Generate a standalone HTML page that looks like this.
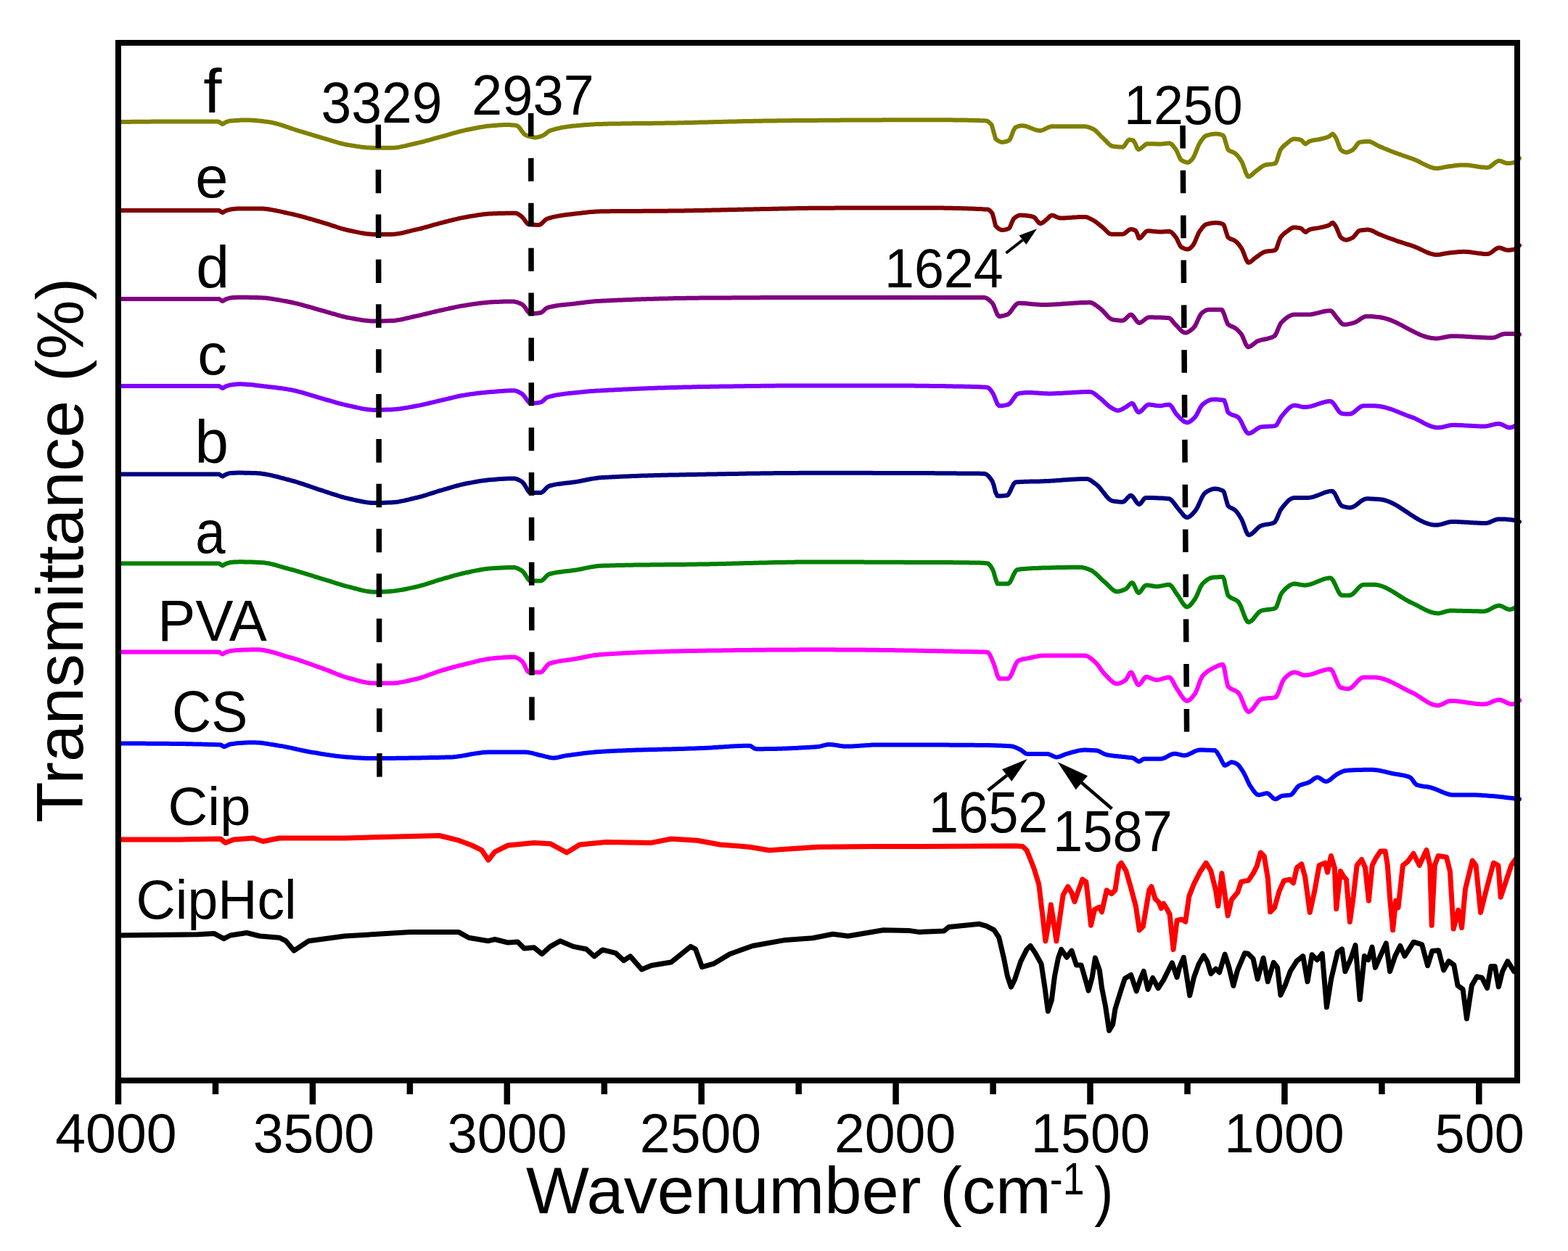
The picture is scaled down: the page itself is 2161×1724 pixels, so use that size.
<!DOCTYPE html>
<html><head><meta charset="utf-8"><title>FTIR spectra</title>
<style>html,body{margin:0;padding:0;background:#fff;} svg{display:block;}</style></head>
<body>
<svg width="2161" height="1724" viewBox="0 0 2161 1724">
<rect width="2161" height="1724" fill="#fff"/>
<g id="curves">
<path d="M164.5,168.0 167.0,168.0 169.5,167.9 172.0,167.9 174.5,167.9 177.0,167.9 179.5,167.9 182.0,167.8 184.5,167.8 187.0,167.8 189.5,167.8 192.0,167.8 194.5,167.7 197.0,167.7 199.5,167.7 202.0,167.7 204.5,167.7 207.0,167.7 209.5,167.6 212.0,167.6 214.5,167.6 217.0,167.6 219.5,167.6 222.0,167.6 224.5,167.6 227.0,167.6 229.5,167.6 232.0,167.6 234.5,167.6 237.0,167.6 239.5,167.5 242.0,167.5 244.5,167.5 247.0,167.5 249.5,167.5 252.0,167.5 254.5,167.5 257.0,167.5 259.5,167.5 262.0,167.5 264.5,167.5 267.0,167.5 269.5,167.5 272.0,167.5 274.5,167.5 277.0,167.5 279.5,167.5 282.0,167.5 284.5,167.5 287.0,167.5 289.5,167.5 292.0,167.5 294.5,167.5 297.0,167.5 299.5,167.5 300.0,167.5 302.0,168.0 304.5,169.9 306.5,171.0 307.0,170.9 309.5,169.4 311.0,168.5 312.0,168.1 314.5,167.2 317.0,166.6 318.0,166.5 319.5,166.4 322.0,166.2 324.5,166.0 327.0,165.9 329.5,165.7 332.0,165.6 334.5,165.6 337.0,165.5 339.5,165.5 340.0,165.5 342.0,165.5 344.5,165.6 347.0,165.7 349.5,165.8 352.0,166.0 354.5,166.3 357.0,166.5 359.5,166.8 362.0,167.1 364.5,167.4 367.0,167.7 369.4,168.0 369.5,168.0 372.0,168.4 374.5,168.8 377.0,169.4 379.5,170.0 382.0,170.6 384.5,171.4 387.0,172.1 389.5,172.9 392.0,173.7 394.5,174.6 397.0,175.4 399.5,176.3 402.0,177.1 404.5,178.0 407.0,178.8 409.5,179.6 411.2,180.1 412.0,180.3 414.5,181.1 417.0,181.8 419.5,182.6 422.0,183.4 424.5,184.1 427.0,184.9 429.5,185.7 432.0,186.4 434.5,187.2 437.0,188.0 439.5,188.7 442.0,189.4 444.5,190.2 446.0,190.6 447.0,190.9 449.5,191.6 452.0,192.4 454.5,193.1 457.0,193.9 459.5,194.7 462.0,195.4 464.5,196.1 467.0,196.8 469.5,197.5 472.0,198.1 474.5,198.7 477.0,199.2 479.5,199.7 480.7,199.9 482.0,200.1 484.5,200.5 487.0,200.9 489.5,201.3 492.0,201.7 494.5,202.0 497.0,202.4 499.5,202.7 502.0,203.0 504.5,203.3 507.0,203.5 509.5,203.6 512.0,203.7 514.5,203.8 515.5,203.8 517.0,203.8 519.5,203.8 522.0,203.8 524.5,203.8 527.0,203.8 529.5,203.8 532.0,203.8 534.5,203.8 537.0,203.8 538.7,203.8 539.5,203.8 542.0,203.7 544.5,203.5 547.0,203.2 549.5,202.9 552.0,202.4 554.5,201.9 557.0,201.4 559.5,200.8 562.0,200.2 564.5,199.6 567.0,199.0 569.5,198.4 572.0,197.8 573.5,197.5 574.5,197.3 577.0,196.7 579.5,196.1 582.0,195.5 584.5,194.9 587.0,194.2 589.5,193.5 592.0,192.8 594.5,192.1 597.0,191.4 599.5,190.7 602.0,190.0 604.5,189.3 607.0,188.6 608.3,188.3 609.5,188.0 612.0,187.3 614.5,186.6 617.0,185.9 619.5,185.2 622.0,184.4 624.5,183.7 627.0,183.0 629.5,182.3 632.0,181.6 634.5,181.0 637.0,180.4 639.5,179.8 642.0,179.2 643.0,179.0 644.5,178.7 647.0,178.2 649.5,177.7 652.0,177.2 654.5,176.7 657.0,176.2 659.5,175.7 662.0,175.3 664.5,174.9 667.0,174.5 669.5,174.1 672.0,173.8 674.5,173.5 677.0,173.3 677.9,173.2 679.5,173.1 682.0,172.9 684.5,172.7 687.0,172.5 689.5,172.3 692.0,172.2 694.5,172.1 697.0,172.0 699.5,172.0 700.0,172.0 702.0,172.0 704.5,172.2 707.0,172.4 709.5,172.6 712.0,173.0 714.5,174.5 717.0,177.5 719.5,181.2 722.0,184.3 724.2,186.0 724.5,186.1 727.0,187.1 729.5,187.9 732.0,188.6 734.5,189.1 737.0,189.4 738.2,189.4 739.5,189.3 742.0,188.9 744.5,188.1 747.0,187.2 747.4,187.1 749.5,186.1 752.0,184.3 754.5,182.3 757.0,180.6 759.0,179.7 759.5,179.5 762.0,178.8 764.5,178.1 767.0,177.5 769.5,176.9 772.0,176.3 774.5,175.8 777.0,175.4 779.5,175.0 782.0,174.6 784.5,174.3 787.0,173.9 789.5,173.6 792.0,173.4 793.8,173.2 794.5,173.1 797.0,172.9 799.5,172.7 802.0,172.4 804.5,172.2 807.0,172.0 809.5,171.9 812.0,171.7 814.5,171.5 817.0,171.4 819.5,171.2 822.0,171.1 824.5,171.0 827.0,170.9 828.6,170.9 829.5,170.9 832.0,170.8 834.5,170.8 837.0,170.7 839.5,170.6 842.0,170.6 844.5,170.5 847.0,170.5 849.5,170.5 852.0,170.4 854.5,170.4 857.0,170.3 859.5,170.3 862.0,170.3 864.5,170.2 867.0,170.2 869.5,170.2 872.0,170.1 874.5,170.1 877.0,170.1 879.5,170.1 882.0,170.0 884.5,170.0 887.0,170.0 889.5,170.0 892.0,169.9 894.5,169.9 897.0,169.9 899.5,169.9 902.0,169.8 904.5,169.8 907.0,169.8 909.5,169.7 912.0,169.7 914.5,169.7 917.0,169.6 919.5,169.6 922.0,169.6 924.5,169.5 925.0,169.5 927.0,169.5 929.5,169.4 932.0,169.4 934.5,169.3 937.0,169.3 939.5,169.2 942.0,169.2 944.5,169.1 947.0,169.1 949.5,169.0 952.0,168.9 954.5,168.9 957.0,168.8 959.5,168.8 962.0,168.7 964.5,168.6 967.0,168.6 969.5,168.5 972.0,168.5 974.5,168.4 977.0,168.3 979.5,168.3 982.0,168.2 984.5,168.1 987.0,168.1 989.5,168.0 992.0,167.9 994.5,167.9 997.0,167.8 999.5,167.8 1002.0,167.7 1004.5,167.6 1007.0,167.6 1009.5,167.5 1012.0,167.4 1014.5,167.4 1017.0,167.3 1019.5,167.3 1022.0,167.2 1024.5,167.1 1027.0,167.1 1029.5,167.0 1032.0,167.0 1034.5,166.9 1037.0,166.9 1039.5,166.8 1042.0,166.8 1044.5,166.7 1047.0,166.7 1049.5,166.7 1052.0,166.6 1054.5,166.6 1057.0,166.5 1059.5,166.5 1060.0,166.5 1062.0,166.5 1064.5,166.4 1067.0,166.4 1069.5,166.4 1072.0,166.3 1074.5,166.3 1077.0,166.3 1079.5,166.3 1082.0,166.2 1084.5,166.2 1087.0,166.2 1089.5,166.2 1092.0,166.1 1094.5,166.1 1097.0,166.1 1099.5,166.1 1102.0,166.0 1104.5,166.0 1107.0,166.0 1109.5,166.0 1112.0,166.0 1114.5,165.9 1117.0,165.9 1119.5,165.9 1120.0,165.9 1122.0,165.9 1124.5,165.9 1127.0,165.9 1129.5,165.8 1132.0,165.8 1134.5,165.8 1137.0,165.8 1139.5,165.8 1142.0,165.8 1144.5,165.7 1147.0,165.7 1149.5,165.7 1152.0,165.7 1154.5,165.7 1157.0,165.7 1159.5,165.6 1162.0,165.6 1164.5,165.6 1167.0,165.6 1169.5,165.6 1172.0,165.6 1174.5,165.6 1177.0,165.5 1179.5,165.5 1182.0,165.5 1184.5,165.5 1187.0,165.5 1189.5,165.5 1192.0,165.5 1194.5,165.4 1197.0,165.4 1199.5,165.4 1202.0,165.4 1204.5,165.4 1207.0,165.4 1209.5,165.4 1212.0,165.4 1214.5,165.4 1217.0,165.3 1219.5,165.3 1222.0,165.3 1224.5,165.3 1227.0,165.3 1229.5,165.3 1232.0,165.3 1234.5,165.3 1237.0,165.3 1239.5,165.3 1242.0,165.3 1244.5,165.2 1247.0,165.2 1249.5,165.2 1252.0,165.2 1254.5,165.2 1257.0,165.2 1259.5,165.2 1262.0,165.2 1264.5,165.2 1267.0,165.2 1269.5,165.2 1272.0,165.2 1274.5,165.2 1277.0,165.2 1279.0,165.2 1279.5,165.2 1282.0,165.2 1284.5,165.2 1287.0,165.2 1289.5,165.2 1292.0,165.2 1294.5,165.2 1297.0,165.2 1299.5,165.2 1302.0,165.3 1304.5,165.3 1307.0,165.3 1309.5,165.3 1312.0,165.3 1314.5,165.4 1317.0,165.4 1319.5,165.4 1322.0,165.4 1324.5,165.5 1327.0,165.5 1329.5,165.6 1332.0,165.6 1334.5,165.7 1337.0,165.7 1339.5,165.8 1342.0,165.8 1344.5,165.9 1347.0,166.0 1349.5,166.1 1352.0,166.2 1354.5,166.2 1357.0,166.3 1358.6,166.4 1359.5,166.5 1362.0,167.6 1364.5,169.7 1366.6,172.0 1367.0,172.7 1369.5,182.1 1372.0,191.0 1372.3,191.4 1374.5,193.2 1377.0,194.8 1379.5,195.7 1381.4,195.9 1382.0,195.9 1384.5,195.6 1387.0,195.0 1389.5,194.0 1390.5,193.6 1392.0,191.9 1394.5,185.9 1397.0,179.3 1399.5,175.5 1402.0,174.5 1404.5,173.7 1407.0,173.3 1408.6,173.2 1409.5,173.2 1412.0,173.5 1414.5,174.2 1417.0,175.0 1419.5,176.0 1422.0,177.0 1424.5,178.0 1427.0,178.8 1429.5,179.5 1432.0,179.9 1433.6,180.0 1434.5,179.9 1437.0,179.3 1439.5,178.2 1442.0,176.9 1444.5,175.6 1447.0,174.7 1449.5,174.3 1452.0,174.3 1454.5,174.3 1457.0,174.3 1459.5,174.3 1462.0,174.3 1464.5,174.3 1467.0,174.3 1469.5,174.3 1472.0,174.3 1474.5,174.3 1477.0,174.3 1479.5,174.3 1482.0,174.3 1484.5,174.3 1487.0,174.3 1489.5,174.3 1492.0,174.3 1494.5,174.3 1495.0,174.3 1497.0,174.4 1499.5,175.0 1502.0,175.8 1504.5,176.9 1506.4,177.7 1507.0,178.0 1509.5,179.7 1512.0,182.0 1514.5,184.6 1517.0,187.3 1519.5,189.8 1520.0,190.2 1522.0,192.1 1524.5,194.7 1527.0,197.3 1529.5,199.6 1532.0,201.1 1533.6,201.6 1534.5,201.7 1537.0,202.1 1539.5,202.3 1542.0,202.5 1544.5,202.6 1547.0,202.7 1547.3,202.7 1549.5,201.2 1552.0,197.3 1554.5,193.6 1556.4,192.5 1557.0,192.5 1559.5,192.9 1562.0,193.6 1564.5,197.7 1567.0,203.8 1568.9,206.0 1569.5,205.9 1572.0,204.8 1574.5,202.7 1577.0,200.4 1579.5,198.7 1581.4,198.2 1582.0,198.2 1584.5,198.2 1587.0,198.2 1589.5,198.3 1592.0,198.3 1594.5,198.4 1597.0,198.4 1599.5,198.4 1600.0,198.4 1602.0,198.3 1604.5,198.0 1607.0,197.7 1609.5,197.4 1611.6,197.3 1612.0,197.3 1614.5,198.6 1617.0,201.2 1619.5,204.6 1620.9,206.5 1622.0,208.4 1624.5,214.4 1627.0,219.6 1627.8,220.4 1629.5,221.5 1632.0,222.7 1634.5,223.6 1637.0,223.9 1637.1,223.9 1639.5,222.9 1642.0,220.5 1644.0,218.1 1644.5,217.4 1647.0,212.3 1649.5,205.8 1652.0,199.7 1653.3,197.3 1654.5,195.5 1657.0,191.9 1659.5,188.9 1662.0,187.0 1662.6,186.8 1664.5,186.3 1667.0,185.6 1669.5,185.1 1672.0,184.8 1674.5,184.6 1676.5,184.5 1677.0,184.5 1679.5,184.8 1682.0,185.3 1684.5,186.2 1685.8,186.8 1687.0,188.6 1689.5,197.1 1692.0,205.3 1692.8,206.5 1694.5,207.7 1697.0,208.9 1699.5,209.8 1702.0,211.2 1704.5,213.4 1707.0,216.4 1709.5,220.0 1711.3,222.8 1712.0,224.1 1714.5,230.7 1717.0,238.0 1719.5,243.0 1720.6,243.6 1722.0,243.3 1724.5,241.6 1727.0,239.3 1729.5,237.0 1729.9,236.7 1732.0,235.1 1734.5,233.1 1737.0,231.2 1739.5,229.4 1742.0,228.0 1743.8,227.4 1744.5,227.2 1747.0,226.8 1749.5,226.5 1752.0,226.3 1754.5,225.9 1757.0,225.3 1757.7,225.1 1759.5,222.2 1762.0,214.0 1764.5,206.8 1764.7,206.5 1767.0,203.5 1769.5,200.9 1772.0,198.8 1773.9,197.3 1774.5,196.8 1777.0,194.7 1779.5,192.8 1782.0,191.7 1783.2,191.5 1784.5,191.5 1787.0,191.7 1789.5,192.0 1792.0,192.5 1792.5,192.6 1794.5,194.0 1797.0,196.9 1799.4,198.4 1799.5,198.4 1802.0,196.6 1804.1,194.9 1804.5,194.8 1807.0,194.0 1809.5,193.4 1812.0,193.0 1814.5,192.6 1817.0,192.2 1819.5,191.7 1820.3,191.5 1822.0,191.1 1824.5,190.5 1827.0,189.8 1829.5,189.0 1831.9,188.0 1832.0,188.0 1834.5,185.7 1836.5,184.5 1837.0,184.6 1839.5,187.5 1841.2,190.3 1842.0,191.8 1844.5,198.6 1847.0,205.0 1848.1,206.5 1849.5,207.6 1852.0,209.2 1854.5,210.0 1855.1,210.0 1857.0,209.8 1859.5,209.0 1862.0,207.8 1864.4,206.5 1864.5,206.4 1867.0,203.9 1869.5,200.2 1872.0,197.1 1873.7,196.1 1874.5,195.9 1877.0,195.5 1879.5,195.2 1882.0,195.0 1884.5,194.9 1885.3,194.9 1887.0,195.0 1889.5,195.7 1892.0,196.8 1894.5,198.2 1897.0,199.6 1899.5,201.0 1901.5,201.9 1902.0,202.1 1904.5,203.1 1907.0,204.2 1909.5,205.2 1912.0,206.2 1914.5,207.2 1917.0,208.2 1919.5,209.2 1922.0,210.2 1924.5,211.1 1924.7,211.2 1927.0,212.0 1929.5,212.9 1932.0,213.8 1934.5,214.7 1937.0,215.5 1939.5,216.3 1942.0,217.2 1944.5,218.1 1947.0,219.0 1947.9,219.3 1949.5,219.9 1952.0,221.0 1954.5,222.2 1957.0,223.5 1959.5,224.8 1962.0,226.1 1964.5,227.3 1967.0,228.5 1969.5,229.6 1972.0,230.5 1974.5,231.2 1977.0,231.7 1979.5,232.0 1980.3,232.0 1982.0,231.9 1984.5,231.6 1987.0,231.1 1989.5,230.6 1992.0,230.1 1994.2,229.7 1994.5,229.7 1997.0,229.3 1999.5,229.0 2002.0,228.7 2004.5,228.3 2007.0,228.0 2009.5,227.8 2012.0,227.6 2014.5,227.5 2017.0,227.4 2017.4,227.4 2019.5,227.4 2022.0,227.6 2024.5,227.8 2027.0,228.1 2029.5,228.5 2032.0,228.9 2034.5,229.3 2037.0,229.7 2039.5,230.1 2042.0,230.4 2044.5,230.6 2047.0,230.8 2049.5,230.9 2049.9,230.9 2052.0,230.5 2054.5,229.1 2057.0,227.1 2059.5,225.0 2062.0,223.1 2064.5,221.9 2066.1,221.6 2067.0,221.7 2069.5,222.3 2072.0,223.4 2074.5,224.4 2077.0,225.1 2077.7,225.1 2079.5,225.0 2082.0,224.8 2084.5,224.4 2087.0,223.9 2089.5,222.6 2092.0,220.2 2094.0,218.0" fill="none" stroke="#808000" stroke-width="6" stroke-linejoin="round" stroke-linecap="round"/>
<path d="M164.5,290.0 167.0,290.0 169.5,290.0 172.0,290.0 174.5,290.0 177.0,290.0 179.5,290.0 182.0,290.0 184.5,290.0 187.0,290.0 189.5,290.0 192.0,290.0 194.5,290.0 197.0,290.0 199.5,290.0 202.0,290.0 204.5,290.0 207.0,290.0 209.5,290.0 212.0,290.0 214.5,290.0 217.0,290.0 219.5,290.0 222.0,290.0 224.5,290.0 227.0,290.0 229.5,290.0 232.0,290.0 234.5,290.0 237.0,290.0 239.5,290.0 242.0,290.0 244.5,290.0 247.0,290.0 249.5,290.0 252.0,290.0 254.5,290.0 257.0,290.0 259.5,290.0 262.0,290.0 264.5,290.0 267.0,290.0 269.5,290.0 272.0,290.0 274.5,290.0 277.0,290.0 279.5,290.0 282.0,290.0 284.5,290.0 287.0,290.0 289.5,290.0 292.0,290.0 294.5,290.0 297.0,290.0 299.5,290.0 302.0,290.0 304.5,291.7 306.5,293.0 307.0,292.9 309.5,291.4 311.0,290.5 312.0,290.1 314.5,289.3 317.0,288.7 318.0,288.5 319.5,288.3 322.0,288.0 324.5,287.8 327.0,287.6 329.5,287.5 330.0,287.5 332.0,287.5 334.5,287.5 337.0,287.5 339.5,287.5 342.0,287.5 344.5,287.5 347.0,287.5 349.5,287.5 352.0,287.5 354.5,287.5 357.0,287.5 357.8,287.5 359.5,287.5 362.0,287.6 364.5,287.8 367.0,288.0 369.5,288.3 372.0,288.7 374.5,289.1 377.0,289.6 379.5,290.0 382.0,290.6 384.5,291.1 387.0,291.6 389.5,292.2 392.0,292.8 394.5,293.3 397.0,293.9 399.5,294.4 399.6,294.4 402.0,294.9 404.5,295.5 407.0,296.1 409.5,296.7 412.0,297.3 414.5,298.0 417.0,298.6 419.5,299.3 422.0,300.0 424.5,300.8 427.0,301.5 429.5,302.2 432.0,303.0 434.5,303.7 437.0,304.5 439.5,305.2 442.0,305.9 444.5,306.7 446.0,307.1 447.0,307.4 449.5,308.1 452.0,308.9 454.5,309.7 457.0,310.6 459.5,311.4 462.0,312.2 464.5,313.0 467.0,313.8 469.5,314.6 472.0,315.3 474.5,316.0 477.0,316.7 479.5,317.2 480.7,317.5 482.0,317.8 484.5,318.3 487.0,318.8 489.5,319.4 492.0,319.9 494.5,320.4 497.0,320.9 499.5,321.3 502.0,321.7 504.5,322.1 507.0,322.4 509.5,322.6 512.0,322.8 514.5,322.9 515.5,322.9 517.0,322.9 519.5,322.9 522.0,322.9 524.5,322.9 527.0,322.9 529.5,322.9 532.0,322.9 534.5,322.9 537.0,322.9 538.7,322.9 539.5,322.9 542.0,322.8 544.5,322.6 547.0,322.3 549.5,321.9 552.0,321.5 554.5,321.0 557.0,320.4 559.5,319.8 562.0,319.2 564.5,318.6 567.0,317.9 569.5,317.3 572.0,316.7 573.5,316.4 574.5,316.2 577.0,315.6 579.5,315.0 582.0,314.3 584.5,313.7 587.0,313.0 589.5,312.3 592.0,311.6 594.5,310.9 597.0,310.1 599.5,309.4 602.0,308.8 604.5,308.1 607.0,307.4 608.3,307.1 609.5,306.8 612.0,306.2 614.5,305.5 617.0,304.9 619.5,304.2 622.0,303.6 624.5,303.0 627.0,302.4 629.5,301.8 632.0,301.2 634.5,300.6 637.0,300.1 639.5,299.6 642.0,299.2 643.0,299.0 644.5,298.7 647.0,298.3 649.5,297.9 652.0,297.5 654.5,297.1 657.0,296.7 659.5,296.3 662.0,295.9 664.5,295.6 667.0,295.3 669.5,295.0 672.0,294.8 674.5,294.6 677.0,294.4 677.9,294.4 679.5,294.3 682.0,294.3 684.5,294.2 687.0,294.1 689.5,294.0 692.0,294.0 694.5,293.9 697.0,293.8 699.5,293.8 702.0,293.8 704.5,293.7 707.0,293.7 709.5,293.7 710.3,293.7 712.0,294.0 714.5,295.2 717.0,297.0 719.5,298.9 719.6,299.0 722.0,301.7 724.5,305.4 727.0,308.4 728.9,309.4 729.5,309.4 732.0,309.6 734.5,309.7 737.0,309.8 739.5,309.9 742.0,309.9 742.8,309.9 744.5,309.5 747.0,307.6 749.5,305.1 752.0,302.7 754.4,301.3 754.5,301.3 757.0,300.5 759.5,299.8 762.0,299.2 764.5,298.6 767.0,298.1 769.5,297.6 772.0,297.2 774.5,296.8 777.0,296.4 779.5,296.1 782.0,295.8 784.5,295.5 787.0,295.2 789.5,294.9 792.0,294.6 793.8,294.4 794.5,294.3 797.0,294.0 799.5,293.7 802.0,293.4 804.5,293.1 807.0,292.9 809.5,292.6 812.0,292.3 814.5,292.1 817.0,291.9 819.5,291.7 822.0,291.5 824.5,291.4 827.0,291.3 828.6,291.3 829.5,291.3 832.0,291.2 834.5,291.2 837.0,291.2 839.5,291.2 842.0,291.1 844.5,291.1 847.0,291.1 849.5,291.1 852.0,291.0 854.5,291.0 857.0,291.0 859.5,291.0 862.0,291.0 864.5,290.9 867.0,290.9 869.5,290.9 872.0,290.9 874.5,290.9 877.0,290.9 879.5,290.9 882.0,290.9 884.5,290.9 887.0,290.8 889.5,290.8 892.0,290.8 894.5,290.8 897.0,290.8 899.5,290.8 902.0,290.8 904.5,290.8 907.0,290.7 909.5,290.7 912.0,290.7 914.5,290.7 917.0,290.7 919.5,290.7 922.0,290.6 924.5,290.6 924.8,290.6 927.0,290.6 929.5,290.5 932.0,290.5 934.5,290.5 937.0,290.5 939.5,290.4 942.0,290.4 944.5,290.3 947.0,290.3 949.5,290.3 952.0,290.2 954.5,290.2 957.0,290.1 959.5,290.1 962.0,290.0 964.5,290.0 967.0,289.9 969.5,289.9 972.0,289.8 974.5,289.8 977.0,289.7 979.5,289.7 982.0,289.6 984.5,289.6 987.0,289.5 989.5,289.5 992.0,289.4 994.5,289.3 997.0,289.3 999.5,289.2 1002.0,289.2 1004.5,289.1 1007.0,289.1 1009.5,289.0 1012.0,288.9 1014.5,288.9 1017.0,288.8 1019.5,288.8 1022.0,288.7 1024.5,288.7 1027.0,288.6 1029.5,288.5 1032.0,288.5 1034.5,288.4 1037.0,288.4 1039.5,288.3 1042.0,288.3 1044.5,288.2 1047.0,288.2 1049.5,288.1 1052.0,288.1 1054.5,288.0 1057.0,288.0 1059.5,287.9 1060.0,287.9 1062.0,287.9 1064.5,287.8 1067.0,287.8 1069.5,287.7 1072.0,287.7 1074.5,287.6 1077.0,287.5 1079.5,287.5 1082.0,287.4 1084.5,287.4 1087.0,287.3 1089.5,287.3 1092.0,287.2 1094.5,287.2 1097.0,287.1 1099.5,287.1 1102.0,287.0 1104.5,287.0 1107.0,286.9 1109.5,286.9 1112.0,286.9 1114.5,286.8 1117.0,286.8 1119.5,286.8 1120.0,286.8 1122.0,286.8 1124.5,286.8 1127.0,286.8 1129.5,286.7 1132.0,286.7 1134.5,286.7 1137.0,286.7 1139.5,286.7 1142.0,286.7 1144.5,286.7 1147.0,286.7 1149.5,286.7 1152.0,286.6 1154.5,286.6 1157.0,286.6 1159.5,286.6 1162.0,286.6 1164.5,286.6 1167.0,286.6 1169.5,286.6 1172.0,286.6 1174.5,286.5 1177.0,286.5 1179.5,286.5 1182.0,286.5 1184.5,286.5 1187.0,286.5 1189.5,286.5 1192.0,286.5 1194.5,286.5 1197.0,286.5 1199.5,286.5 1202.0,286.5 1204.5,286.5 1207.0,286.5 1209.5,286.5 1212.0,286.4 1214.5,286.4 1217.0,286.4 1219.5,286.4 1222.0,286.4 1224.5,286.4 1227.0,286.4 1229.5,286.4 1232.0,286.4 1234.5,286.4 1237.0,286.4 1239.5,286.4 1242.0,286.4 1244.5,286.4 1247.0,286.4 1249.5,286.4 1252.0,286.4 1254.5,286.4 1256.4,286.4 1257.0,286.4 1259.5,286.4 1262.0,286.4 1264.5,286.4 1267.0,286.4 1269.5,286.4 1272.0,286.4 1274.5,286.4 1277.0,286.4 1279.5,286.4 1282.0,286.5 1284.5,286.5 1287.0,286.5 1289.5,286.5 1292.0,286.5 1294.5,286.6 1297.0,286.6 1299.5,286.6 1302.0,286.7 1304.5,286.7 1307.0,286.7 1309.5,286.8 1312.0,286.8 1314.5,286.9 1317.0,286.9 1319.5,287.0 1322.0,287.0 1324.5,287.1 1327.0,287.2 1329.5,287.2 1332.0,287.3 1334.5,287.4 1337.0,287.5 1339.5,287.6 1342.0,287.7 1344.5,287.8 1347.0,287.9 1349.5,288.0 1352.0,288.1 1354.5,288.3 1357.0,288.4 1359.5,288.5 1361.0,288.6 1362.0,288.8 1364.5,290.4 1367.0,293.3 1367.7,294.3 1369.5,300.6 1372.0,310.9 1372.3,311.4 1374.5,313.7 1377.0,315.6 1379.5,316.7 1381.4,317.0 1382.0,317.0 1384.5,316.7 1387.0,316.1 1389.5,315.2 1390.5,314.8 1392.0,312.9 1394.5,306.6 1397.0,301.4 1397.3,301.1 1399.5,299.4 1402.0,297.8 1404.5,296.8 1406.4,296.6 1407.0,296.6 1409.5,296.7 1412.0,296.8 1414.5,297.1 1417.0,297.4 1419.5,297.8 1422.0,298.3 1424.5,298.9 1427.0,300.9 1429.5,304.4 1432.0,307.3 1433.6,308.0 1434.5,307.9 1437.0,306.8 1439.5,304.9 1442.0,302.8 1442.7,302.3 1444.5,300.6 1447.0,297.9 1449.5,296.6 1452.0,297.1 1454.5,298.2 1457.0,299.4 1459.5,300.3 1461.0,300.5 1462.0,300.5 1464.5,300.5 1467.0,300.4 1469.5,300.2 1472.0,300.1 1474.5,299.9 1477.0,299.8 1479.5,299.6 1482.0,299.4 1484.5,299.3 1487.0,299.1 1489.5,299.0 1492.0,298.9 1494.5,298.9 1495.0,298.9 1497.0,299.1 1499.5,299.9 1502.0,301.1 1504.5,302.4 1506.4,303.4 1507.0,303.7 1509.5,305.3 1512.0,307.1 1514.5,309.1 1517.0,311.2 1519.5,313.2 1520.0,313.6 1522.0,315.4 1524.5,318.0 1527.0,320.5 1529.5,322.2 1531.4,322.7 1532.0,322.7 1534.5,322.7 1537.0,322.7 1539.5,322.7 1542.0,322.7 1544.5,322.7 1547.0,322.7 1547.3,322.7 1549.5,322.0 1552.0,320.1 1554.5,317.9 1557.0,316.3 1558.6,315.9 1559.5,315.9 1562.0,316.5 1564.5,317.6 1565.5,318.2 1567.0,321.3 1569.5,328.1 1570.0,328.4 1572.0,327.6 1574.5,324.9 1577.0,321.6 1579.5,319.0 1581.4,318.2 1582.0,318.2 1584.5,318.3 1587.0,318.5 1589.5,318.8 1592.0,319.0 1594.5,319.3 1597.0,319.5 1599.5,319.6 1600.0,319.6 1602.0,319.5 1604.5,319.3 1607.0,319.1 1609.5,318.9 1611.6,318.8 1612.0,318.9 1614.5,320.0 1617.0,322.5 1619.5,325.6 1620.9,327.4 1622.0,329.2 1624.5,334.8 1627.0,339.6 1627.8,340.3 1629.5,341.3 1632.0,342.5 1634.5,343.3 1637.0,343.6 1637.1,343.6 1639.5,342.7 1642.0,340.4 1644.0,338.2 1644.5,337.6 1647.0,332.8 1649.5,326.7 1652.0,321.0 1653.3,318.8 1654.5,317.2 1657.0,313.8 1659.5,311.0 1662.0,309.3 1662.6,309.1 1664.5,308.6 1667.0,308.0 1669.5,307.5 1672.0,307.2 1674.5,307.0 1676.5,306.9 1677.0,307.0 1679.5,307.2 1682.0,307.7 1684.5,308.5 1685.8,309.1 1687.0,310.7 1689.5,318.6 1692.0,326.3 1692.8,327.4 1694.5,328.6 1697.0,329.6 1699.5,330.5 1702.0,331.8 1704.5,333.9 1707.0,336.6 1709.5,340.0 1711.3,342.6 1712.0,343.8 1714.5,349.9 1717.0,356.7 1719.5,361.3 1720.6,361.9 1722.0,361.6 1724.5,360.1 1727.0,357.9 1729.5,355.8 1729.9,355.5 1732.0,354.0 1734.5,352.2 1737.0,350.3 1739.5,348.7 1742.0,347.4 1743.8,346.8 1744.5,346.7 1747.0,346.3 1749.5,346.0 1752.0,345.8 1754.5,345.5 1757.0,344.9 1757.7,344.7 1759.5,342.0 1762.0,334.3 1764.5,327.7 1764.7,327.4 1767.0,324.6 1769.5,322.2 1772.0,320.2 1773.9,318.8 1774.5,318.4 1777.0,316.5 1779.5,314.7 1782.0,313.6 1783.2,313.5 1784.5,313.5 1787.0,313.6 1789.5,314.0 1792.0,314.4 1792.5,314.5 1794.5,315.8 1797.0,318.5 1799.4,319.9 1799.5,319.9 1802.0,318.2 1804.1,316.6 1804.5,316.5 1807.0,315.8 1809.5,315.3 1812.0,314.8 1814.5,314.5 1817.0,314.1 1819.5,313.6 1820.3,313.5 1822.0,313.1 1824.5,312.5 1827.0,311.9 1829.5,311.1 1831.9,310.2 1832.0,310.2 1834.5,308.0 1836.5,306.9 1837.0,307.0 1839.5,309.7 1841.2,312.3 1842.0,313.8 1844.5,320.1 1847.0,326.0 1848.1,327.4 1849.5,328.4 1852.0,329.9 1854.5,330.6 1855.1,330.7 1857.0,330.5 1859.5,329.7 1862.0,328.6 1864.4,327.4 1864.5,327.4 1867.0,324.9 1869.5,321.6 1872.0,318.7 1873.7,317.7 1874.5,317.6 1877.0,317.2 1879.5,316.9 1882.0,316.7 1884.5,316.6 1885.3,316.6 1887.0,316.8 1889.5,317.4 1892.0,318.4 1894.5,319.7 1897.0,321.0 1899.5,322.3 1901.5,323.1 1902.0,323.3 1904.5,324.3 1907.0,325.3 1909.5,326.2 1912.0,327.2 1914.5,328.1 1917.0,329.0 1919.5,329.9 1922.0,330.8 1924.5,331.7 1924.7,331.8 1927.0,332.6 1929.5,333.4 1932.0,334.2 1934.5,335.0 1937.0,335.8 1939.5,336.6 1942.0,337.4 1944.5,338.2 1947.0,339.0 1947.9,339.3 1949.5,339.9 1952.0,340.9 1954.5,342.0 1957.0,343.2 1959.5,344.4 1962.0,345.6 1964.5,346.8 1967.0,347.9 1969.5,348.9 1972.0,349.7 1974.5,350.4 1977.0,350.9 1979.5,351.1 1980.3,351.1 1982.0,351.1 1984.5,350.8 1987.0,350.3 1989.5,349.8 1992.0,349.3 1994.2,349.0 1994.5,348.9 1997.0,348.6 1999.5,348.3 2002.0,348.0 2004.5,347.7 2007.0,347.4 2009.5,347.2 2012.0,347.0 2014.5,346.9 2017.0,346.8 2017.4,346.8 2019.5,346.9 2022.0,347.0 2024.5,347.2 2027.0,347.5 2029.5,347.9 2032.0,348.2 2034.5,348.6 2037.0,349.0 2039.5,349.3 2042.0,349.6 2044.5,349.9 2047.0,350.0 2049.5,350.1 2049.9,350.1 2052.0,349.7 2054.5,348.4 2057.0,346.6 2059.5,344.6 2062.0,342.8 2064.5,341.7 2066.1,341.4 2067.0,341.5 2069.5,342.1 2072.0,343.1 2074.5,344.1 2077.0,344.7 2077.7,344.7 2079.5,344.7 2082.0,344.4 2084.5,344.1 2087.0,343.6 2089.5,342.4 2092.0,340.2 2094.0,338.1" fill="none" stroke="#800000" stroke-width="6" stroke-linejoin="round" stroke-linecap="round"/>
<path d="M164.5,412.0 167.0,412.0 169.5,412.0 172.0,412.0 174.5,412.0 177.0,412.0 179.5,412.0 182.0,412.0 184.5,412.0 187.0,412.0 189.5,412.0 192.0,412.0 194.5,412.0 197.0,412.0 199.5,412.0 202.0,412.0 204.5,412.0 207.0,412.0 209.5,412.0 212.0,412.0 214.5,412.0 217.0,412.0 219.5,412.0 222.0,412.0 224.5,412.0 227.0,412.0 229.5,412.0 232.0,412.0 234.5,412.0 237.0,412.0 239.5,412.0 242.0,412.0 244.5,412.0 247.0,412.0 249.5,412.0 252.0,412.0 254.5,412.0 257.0,412.0 259.5,412.0 262.0,412.0 264.5,412.0 267.0,412.0 269.5,412.0 272.0,412.0 274.5,412.0 277.0,412.0 279.5,412.0 282.0,412.0 284.5,412.0 287.0,412.0 289.5,412.0 292.0,412.0 294.5,412.0 297.0,412.0 299.5,412.0 302.0,412.0 304.5,413.7 306.5,415.0 307.0,414.9 309.5,413.4 311.0,412.5 312.0,412.1 314.5,411.3 317.0,410.6 318.0,410.5 319.5,410.3 322.0,410.1 324.5,409.9 327.0,409.8 329.5,409.7 330.0,409.7 332.0,409.7 334.5,409.7 337.0,409.7 339.5,409.8 342.0,409.8 344.5,409.9 347.0,409.9 349.5,410.0 352.0,410.0 354.5,410.1 357.0,410.2 357.8,410.2 359.5,410.3 362.0,410.4 364.5,410.6 367.0,410.8 369.5,411.1 372.0,411.4 374.5,411.8 377.0,412.2 379.5,412.6 382.0,413.0 384.5,413.4 387.0,413.9 389.5,414.4 392.0,414.8 394.5,415.3 397.0,415.8 399.5,416.3 399.6,416.3 402.0,416.8 404.5,417.3 407.0,417.9 409.5,418.4 412.0,419.1 414.5,419.7 417.0,420.4 419.5,421.1 422.0,421.8 424.5,422.5 427.0,423.2 429.5,423.9 432.0,424.6 434.5,425.4 437.0,426.1 439.5,426.8 442.0,427.5 444.5,428.2 446.0,428.6 447.0,428.9 449.5,429.6 452.0,430.3 454.5,431.0 457.0,431.8 459.5,432.5 462.0,433.2 464.5,434.0 467.0,434.7 469.5,435.4 472.0,436.0 474.5,436.6 477.0,437.2 479.5,437.7 480.7,437.9 482.0,438.1 484.5,438.6 487.0,439.0 489.5,439.5 492.0,440.0 494.5,440.4 497.0,440.8 499.5,441.2 502.0,441.5 504.5,441.8 507.0,442.1 509.5,442.3 512.0,442.4 514.5,442.5 515.5,442.5 517.0,442.5 519.5,442.5 522.0,442.5 524.5,442.4 527.0,442.4 529.5,442.3 532.0,442.3 534.5,442.2 537.0,442.1 538.7,442.1 539.5,442.1 542.0,441.9 544.5,441.7 547.0,441.3 549.5,440.9 552.0,440.5 554.5,440.0 557.0,439.4 559.5,438.8 562.0,438.3 564.5,437.7 567.0,437.1 569.5,436.5 572.0,435.9 573.5,435.6 574.5,435.4 577.0,434.9 579.5,434.3 582.0,433.7 584.5,433.1 587.0,432.5 589.5,431.9 592.0,431.3 594.5,430.7 597.0,430.1 599.5,429.5 602.0,428.9 604.5,428.3 607.0,427.8 608.3,427.5 609.5,427.2 612.0,426.7 614.5,426.1 617.0,425.6 619.5,425.0 622.0,424.5 624.5,424.0 627.0,423.4 629.5,422.9 632.0,422.4 634.5,421.9 637.0,421.5 639.5,421.1 642.0,420.7 643.0,420.5 644.5,420.3 647.0,419.9 649.5,419.5 652.0,419.1 654.5,418.8 657.0,418.4 659.5,418.1 662.0,417.8 664.5,417.5 667.0,417.2 669.5,416.9 672.0,416.7 674.5,416.5 677.0,416.3 677.9,416.3 679.5,416.2 682.0,416.1 684.5,416.0 687.0,415.9 689.5,415.8 692.0,415.7 694.5,415.6 697.0,415.5 699.5,415.5 702.0,415.4 704.5,415.4 705.7,415.4 707.0,415.4 709.5,415.8 712.0,416.4 714.5,417.2 717.0,418.2 719.5,419.4 719.6,419.4 722.0,421.5 724.5,425.0 727.0,428.8 729.5,431.5 731.2,432.1 732.0,432.1 734.5,432.0 737.0,431.9 739.5,431.7 742.0,431.4 744.5,431.1 745.1,431.0 747.0,430.1 749.5,427.9 752.0,425.5 754.4,424.0 754.5,424.0 757.0,423.3 759.5,422.7 762.0,422.2 764.5,421.7 767.0,421.3 769.5,420.9 772.0,420.5 774.5,420.2 777.0,419.9 779.5,419.7 782.0,419.4 784.5,419.2 787.0,418.9 789.5,418.7 792.0,418.4 793.8,418.2 794.5,418.1 797.0,417.8 799.5,417.5 802.0,417.2 804.5,416.9 807.0,416.6 809.5,416.3 812.0,416.1 814.5,415.8 817.0,415.6 819.5,415.3 822.0,415.1 824.5,414.9 827.0,414.8 828.6,414.7 829.5,414.7 832.0,414.5 834.5,414.4 837.0,414.3 839.5,414.2 842.0,414.0 844.5,413.9 847.0,413.8 849.5,413.7 852.0,413.6 854.5,413.5 857.0,413.4 859.5,413.3 862.0,413.2 864.5,413.1 867.0,413.0 869.5,412.9 872.0,412.8 874.5,412.7 877.0,412.6 879.5,412.5 882.0,412.4 884.5,412.3 887.0,412.3 889.5,412.2 892.0,412.1 894.5,412.0 897.0,411.9 899.5,411.9 902.0,411.8 904.5,411.7 907.0,411.7 909.5,411.6 912.0,411.5 914.5,411.5 917.0,411.4 919.5,411.4 922.0,411.3 924.5,411.2 927.0,411.2 929.5,411.1 932.0,411.1 934.5,411.0 937.0,411.0 939.5,411.0 942.0,410.9 944.5,410.9 947.0,410.8 949.5,410.8 952.0,410.8 954.5,410.7 957.0,410.7 959.5,410.7 962.0,410.7 964.5,410.6 967.0,410.6 969.5,410.6 970.0,410.6 972.0,410.6 974.5,410.6 977.0,410.6 979.5,410.5 982.0,410.5 984.5,410.5 987.0,410.5 989.5,410.5 992.0,410.5 994.5,410.4 997.0,410.4 999.5,410.4 1002.0,410.4 1004.5,410.4 1007.0,410.4 1009.5,410.3 1012.0,410.3 1014.5,410.3 1017.0,410.3 1019.5,410.3 1022.0,410.3 1024.5,410.3 1027.0,410.3 1029.5,410.2 1032.0,410.2 1034.5,410.2 1037.0,410.2 1039.5,410.2 1042.0,410.2 1044.5,410.2 1047.0,410.2 1049.5,410.1 1052.0,410.1 1054.5,410.1 1057.0,410.1 1059.5,410.1 1062.0,410.1 1064.5,410.1 1067.0,410.1 1069.5,410.1 1072.0,410.1 1074.5,410.1 1077.0,410.1 1079.5,410.1 1082.0,410.0 1084.5,410.0 1087.0,410.0 1089.5,410.0 1092.0,410.0 1094.5,410.0 1097.0,410.0 1099.5,410.0 1102.0,410.0 1104.5,410.0 1107.0,410.0 1109.5,410.0 1112.0,410.0 1114.5,410.0 1117.0,410.0 1119.5,410.0 1120.0,410.0 1122.0,410.0 1124.5,410.0 1127.0,410.0 1129.5,410.0 1132.0,410.0 1134.5,410.0 1137.0,410.0 1139.5,410.0 1142.0,410.0 1144.5,410.0 1147.0,410.0 1149.5,410.0 1152.0,410.0 1154.5,410.0 1157.0,410.0 1159.5,410.0 1162.0,410.0 1164.5,410.0 1167.0,410.0 1169.5,410.0 1172.0,410.0 1174.5,410.0 1177.0,410.0 1179.5,410.0 1182.0,410.0 1184.5,410.0 1187.0,410.0 1189.5,410.0 1192.0,410.0 1194.5,410.0 1197.0,410.0 1199.5,410.0 1202.0,410.0 1204.5,410.0 1207.0,410.0 1209.5,410.0 1212.0,410.0 1214.5,410.0 1217.0,410.0 1219.5,410.0 1222.0,410.0 1224.5,410.0 1227.0,410.0 1229.5,410.0 1232.0,410.0 1234.5,410.0 1237.0,410.0 1239.5,410.0 1242.0,410.0 1244.5,410.0 1247.0,410.0 1249.5,410.0 1252.0,410.0 1254.5,410.0 1257.0,410.0 1259.5,410.0 1262.0,410.0 1264.5,410.0 1267.0,410.0 1269.5,410.0 1272.0,410.0 1274.5,410.0 1277.0,410.0 1279.5,410.0 1282.0,410.0 1284.5,410.0 1287.0,410.0 1289.5,410.0 1292.0,410.0 1294.5,410.0 1297.0,410.0 1299.5,410.0 1302.0,410.0 1304.5,410.0 1307.0,410.0 1309.5,410.0 1312.0,410.0 1314.5,410.0 1317.0,410.0 1319.5,410.0 1322.0,410.0 1324.5,410.0 1327.0,410.0 1329.5,410.0 1332.0,410.0 1334.5,410.0 1337.0,410.0 1339.5,410.0 1342.0,410.0 1344.5,410.0 1347.0,410.0 1349.5,410.0 1352.0,410.0 1354.5,410.0 1356.4,410.0 1357.0,410.0 1359.5,410.8 1362.0,412.4 1364.5,414.5 1367.0,417.0 1367.7,417.7 1369.5,420.8 1372.0,427.3 1374.5,433.4 1376.8,435.9 1377.0,435.9 1379.5,435.7 1382.0,435.3 1384.5,434.7 1387.0,433.9 1388.0,433.6 1389.5,432.8 1392.0,430.4 1394.5,427.1 1397.0,423.6 1399.5,420.5 1402.0,418.3 1404.0,417.7 1404.5,417.7 1407.0,417.8 1409.5,417.9 1412.0,418.0 1414.5,418.2 1417.0,418.5 1419.5,418.7 1422.0,419.0 1424.5,419.2 1427.0,419.4 1429.5,419.6 1432.0,419.8 1434.5,419.9 1437.0,420.0 1438.0,420.0 1439.5,420.0 1442.0,420.0 1444.5,419.9 1447.0,419.8 1449.5,419.7 1452.0,419.6 1454.5,419.5 1457.0,419.3 1459.5,419.2 1462.0,419.0 1464.5,418.8 1467.0,418.6 1469.5,418.4 1472.0,418.2 1474.5,418.1 1477.0,417.9 1479.5,417.7 1482.0,417.5 1484.5,417.4 1487.0,417.2 1489.5,417.1 1492.0,417.0 1494.5,416.9 1497.0,416.9 1499.5,416.8 1501.8,416.8 1502.0,416.8 1504.5,417.3 1507.0,418.5 1509.5,420.1 1512.0,421.9 1514.5,423.8 1515.5,424.5 1517.0,425.7 1519.5,428.0 1522.0,430.8 1524.5,433.6 1527.0,436.3 1529.5,438.5 1532.0,440.0 1533.6,440.5 1534.5,440.6 1537.0,441.0 1539.5,441.3 1542.0,441.6 1544.5,441.7 1547.0,441.8 1547.3,441.8 1549.5,441.0 1552.0,438.7 1554.5,436.1 1557.0,434.0 1558.6,433.6 1559.5,433.8 1562.0,436.0 1564.5,439.6 1567.0,443.0 1569.5,444.9 1570.0,445.0 1572.0,444.5 1574.5,443.0 1577.0,441.0 1579.5,439.0 1582.0,437.6 1583.6,437.3 1584.5,437.3 1587.0,437.3 1589.5,437.3 1592.0,437.4 1594.5,437.4 1597.0,437.5 1599.5,437.6 1602.0,437.7 1604.5,437.8 1607.0,437.9 1609.5,438.1 1611.0,438.2 1612.0,438.5 1614.5,440.6 1617.0,443.8 1619.5,446.8 1620.0,447.3 1622.0,449.3 1624.5,452.0 1627.0,454.7 1629.5,456.9 1632.0,458.3 1633.6,458.6 1634.5,458.5 1637.0,457.8 1639.5,456.3 1642.0,454.4 1644.5,452.2 1645.0,451.8 1647.0,449.1 1649.5,444.1 1652.0,438.5 1654.5,433.7 1656.4,431.4 1657.0,430.9 1659.5,429.1 1662.0,427.7 1664.5,426.9 1665.5,426.8 1667.0,426.8 1669.5,426.8 1672.0,426.8 1674.5,426.8 1677.0,426.8 1679.5,426.8 1682.0,426.8 1683.6,426.8 1684.5,427.3 1687.0,432.6 1689.5,440.4 1692.0,446.5 1692.7,447.3 1694.5,448.5 1697.0,449.6 1699.5,450.6 1701.8,451.8 1702.0,451.9 1704.5,453.8 1707.0,456.2 1709.5,459.0 1711.0,460.9 1712.0,462.5 1714.5,468.4 1717.0,474.6 1719.5,478.1 1720.0,478.2 1722.0,477.8 1724.5,476.5 1727.0,474.6 1729.5,472.6 1732.0,470.8 1733.6,470.0 1734.5,469.6 1737.0,468.8 1739.5,468.2 1742.0,467.7 1744.5,467.2 1747.0,466.7 1749.5,466.0 1752.0,465.2 1754.5,464.2 1756.4,463.2 1757.0,462.7 1759.5,458.2 1762.0,451.9 1764.5,446.4 1765.5,445.0 1767.0,443.5 1769.5,441.1 1772.0,438.9 1774.5,437.0 1777.0,435.5 1779.5,434.4 1782.0,433.7 1783.6,433.6 1784.5,433.6 1787.0,433.6 1789.5,433.6 1792.0,433.6 1794.5,433.6 1797.0,433.6 1799.5,433.6 1801.8,433.6 1802.0,433.6 1804.5,433.5 1807.0,433.2 1809.5,432.8 1812.0,432.3 1814.5,431.7 1817.0,431.1 1819.5,430.4 1822.0,429.8 1824.5,429.3 1827.0,428.8 1829.5,428.4 1832.0,428.2 1833.6,428.2 1834.5,428.4 1837.0,430.5 1839.5,434.0 1842.0,437.4 1842.7,438.2 1844.5,440.3 1847.0,443.6 1849.5,446.3 1851.8,447.3 1852.0,447.3 1854.5,447.2 1857.0,446.9 1859.5,446.4 1862.0,445.9 1864.5,445.2 1865.5,445.0 1867.0,444.5 1869.5,443.3 1872.0,441.7 1874.5,439.9 1877.0,438.3 1879.5,436.9 1882.0,436.1 1883.6,435.9 1884.5,435.9 1887.0,436.0 1889.5,436.1 1892.0,436.3 1894.5,436.5 1897.0,436.8 1899.5,437.0 1901.8,437.3 1902.0,437.3 1904.5,437.7 1907.0,438.2 1909.5,438.8 1912.0,439.6 1914.5,440.4 1917.0,441.3 1919.5,442.4 1922.0,443.5 1924.5,444.6 1927.0,445.9 1929.5,447.1 1932.0,448.4 1934.5,449.8 1937.0,451.1 1939.5,452.5 1942.0,453.8 1944.5,455.1 1947.0,456.4 1949.5,457.7 1952.0,458.9 1954.5,460.1 1957.0,461.2 1959.5,462.2 1962.0,463.1 1964.5,464.0 1967.0,464.7 1969.5,465.3 1972.0,465.8 1974.5,466.1 1977.0,466.3 1979.0,466.4 1979.5,466.4 1982.0,466.2 1984.5,465.9 1987.0,465.5 1989.5,465.0 1992.0,464.5 1994.5,464.0 1997.0,463.6 1999.5,463.3 2001.8,463.2 2002.0,463.2 2004.5,463.2 2007.0,463.3 2009.5,463.3 2012.0,463.4 2014.5,463.5 2017.0,463.6 2019.5,463.8 2022.0,463.9 2024.5,464.1 2027.0,464.2 2029.5,464.4 2032.0,464.5 2034.5,464.7 2037.0,464.8 2039.5,465.0 2042.0,465.1 2044.5,465.2 2047.0,465.3 2049.5,465.4 2052.0,465.5 2054.5,465.5 2056.4,465.5 2057.0,465.5 2059.5,465.1 2062.0,464.2 2064.5,463.2 2067.0,462.1 2069.5,461.0 2072.0,460.3 2074.5,460.0 2077.0,460.0 2079.5,460.0 2082.0,460.1 2084.5,460.1 2087.0,460.2 2089.5,460.4 2092.0,460.7 2094.0,460.9" fill="none" stroke="#800080" stroke-width="6" stroke-linejoin="round" stroke-linecap="round"/>
<path d="M164.5,532.0 167.0,532.0 169.5,532.0 172.0,532.0 174.5,532.0 177.0,532.0 179.5,532.0 182.0,532.0 184.5,532.0 187.0,532.0 189.5,532.0 192.0,532.0 194.5,532.0 197.0,532.0 199.5,532.0 202.0,532.0 204.5,532.0 207.0,532.0 209.5,532.0 212.0,532.0 214.5,532.0 217.0,532.0 219.5,532.0 222.0,532.0 224.5,532.0 227.0,532.0 229.5,532.0 232.0,532.0 234.5,532.0 237.0,532.0 239.5,532.0 242.0,532.0 244.5,532.0 247.0,532.0 249.5,532.0 252.0,532.0 254.5,532.0 257.0,532.0 259.5,532.0 262.0,532.0 264.5,532.0 267.0,532.0 269.5,532.0 272.0,532.0 274.5,532.0 277.0,532.0 279.5,532.0 282.0,532.0 284.5,532.0 287.0,532.0 289.5,532.0 292.0,532.0 294.5,532.0 297.0,532.0 299.5,532.0 302.0,532.0 304.5,533.7 306.5,535.0 307.0,534.9 309.5,533.4 311.0,532.5 312.0,532.1 314.5,531.3 317.0,530.7 318.0,530.5 319.5,530.3 322.0,529.9 324.5,529.6 327.0,529.4 329.5,529.3 330.0,529.3 332.0,529.3 334.5,529.4 337.0,529.5 339.5,529.7 342.0,529.9 344.5,530.1 347.0,530.3 349.5,530.6 352.0,530.9 354.5,531.2 357.0,531.5 359.5,531.8 362.0,532.1 364.5,532.4 364.8,532.4 367.0,532.6 369.5,532.9 372.0,533.2 374.5,533.5 377.0,533.8 379.5,534.1 382.0,534.4 384.5,534.7 387.0,535.0 389.5,535.4 392.0,535.8 394.5,536.1 397.0,536.6 399.5,537.0 399.6,537.0 402.0,537.4 404.5,538.0 407.0,538.5 409.5,539.1 412.0,539.8 414.5,540.4 417.0,541.1 419.5,541.9 422.0,542.6 424.5,543.4 427.0,544.1 429.5,544.9 432.0,545.7 434.5,546.4 437.0,547.2 439.5,547.9 442.0,548.7 444.5,549.4 446.0,549.8 447.0,550.1 449.5,550.8 452.0,551.5 454.5,552.2 457.0,552.9 459.5,553.6 462.0,554.4 464.5,555.1 467.0,555.8 469.5,556.4 472.0,557.1 474.5,557.7 477.0,558.3 479.5,558.8 480.7,559.1 482.0,559.4 484.5,559.9 487.0,560.5 489.5,561.0 492.0,561.6 494.5,562.1 497.0,562.7 499.5,563.2 502.0,563.6 504.5,564.0 507.0,564.4 509.5,564.6 512.0,564.8 514.5,564.9 515.5,564.9 517.0,564.9 519.5,564.9 522.0,564.9 524.5,564.8 527.0,564.8 529.5,564.7 532.0,564.6 534.5,564.5 537.0,564.5 538.7,564.4 539.5,564.4 542.0,564.2 544.5,564.0 547.0,563.8 549.5,563.5 552.0,563.2 554.5,562.8 557.0,562.4 559.5,562.0 562.0,561.6 564.5,561.1 567.0,560.7 569.5,560.2 572.0,559.8 573.5,559.5 574.5,559.3 577.0,558.9 579.5,558.4 582.0,557.8 584.5,557.3 587.0,556.7 589.5,556.1 592.0,555.5 594.5,554.9 597.0,554.3 599.5,553.7 602.0,553.1 604.5,552.5 607.0,551.9 608.3,551.6 609.5,551.3 612.0,550.8 614.5,550.2 617.0,549.6 619.5,549.0 622.0,548.4 624.5,547.8 627.0,547.2 629.5,546.6 632.0,546.0 634.5,545.5 637.0,545.0 639.5,544.6 642.0,544.2 643.0,544.0 644.5,543.8 647.0,543.4 649.5,543.1 652.0,542.7 654.5,542.4 657.0,542.1 659.5,541.8 662.0,541.5 664.5,541.2 667.0,541.0 669.5,540.7 672.0,540.5 674.5,540.3 677.0,540.1 677.9,540.0 679.5,539.9 682.0,539.7 684.5,539.5 687.0,539.3 689.5,539.1 692.0,538.9 694.5,538.7 697.0,538.5 699.5,538.4 702.0,538.3 704.5,538.2 707.0,538.2 708.0,538.2 709.5,538.3 712.0,538.9 714.5,540.0 717.0,541.3 719.5,542.7 719.6,542.8 722.0,545.1 724.5,548.7 727.0,552.3 729.5,555.0 731.2,555.6 732.0,555.6 734.5,555.5 737.0,555.4 739.5,555.2 742.0,554.9 744.5,554.5 745.1,554.4 747.0,553.6 749.5,551.4 752.0,549.0 754.4,547.5 754.5,547.5 757.0,546.7 759.5,546.1 762.0,545.5 764.5,544.9 767.0,544.4 769.5,544.0 772.0,543.6 774.5,543.2 777.0,542.9 779.5,542.5 782.0,542.3 784.5,542.0 787.0,541.7 789.5,541.5 792.0,541.2 793.8,541.0 794.5,540.9 797.0,540.7 799.5,540.4 802.0,540.2 804.5,539.9 807.0,539.7 809.5,539.5 812.0,539.3 814.5,539.1 817.0,538.9 819.5,538.8 822.0,538.6 824.5,538.4 827.0,538.3 828.6,538.2 829.5,538.2 832.0,538.0 834.5,537.9 837.0,537.7 839.5,537.6 842.0,537.5 844.5,537.4 847.0,537.2 849.5,537.1 852.0,537.0 854.5,536.9 857.0,536.7 859.5,536.6 862.0,536.5 864.5,536.4 867.0,536.3 869.5,536.2 872.0,536.0 874.5,535.9 877.0,535.8 879.5,535.7 882.0,535.6 884.5,535.5 887.0,535.4 889.5,535.3 892.0,535.2 894.5,535.1 897.0,535.0 899.5,534.9 902.0,534.8 904.5,534.7 907.0,534.6 909.5,534.6 912.0,534.5 914.5,534.4 917.0,534.3 919.5,534.2 922.0,534.2 924.5,534.1 927.0,534.0 929.5,533.9 932.0,533.9 934.5,533.8 937.0,533.7 939.5,533.7 942.0,533.6 944.5,533.5 947.0,533.5 949.5,533.4 952.0,533.4 954.5,533.3 957.0,533.2 959.5,533.2 962.0,533.1 964.5,533.1 967.0,533.1 969.5,533.0 970.0,533.0 972.0,533.0 974.5,532.9 977.0,532.9 979.5,532.8 982.0,532.8 984.5,532.8 987.0,532.7 989.5,532.7 992.0,532.6 994.5,532.6 997.0,532.6 999.5,532.5 1002.0,532.5 1004.5,532.4 1007.0,532.4 1009.5,532.4 1012.0,532.3 1014.5,532.3 1017.0,532.3 1019.5,532.2 1022.0,532.2 1024.5,532.2 1027.0,532.1 1029.5,532.1 1032.0,532.1 1034.5,532.0 1037.0,532.0 1039.5,532.0 1042.0,531.9 1044.5,531.9 1047.0,531.9 1049.5,531.8 1052.0,531.8 1054.5,531.8 1057.0,531.8 1059.5,531.7 1062.0,531.7 1064.5,531.7 1067.0,531.7 1069.5,531.6 1072.0,531.6 1074.5,531.6 1077.0,531.6 1079.5,531.6 1082.0,531.5 1084.5,531.5 1087.0,531.5 1089.5,531.5 1092.0,531.5 1094.5,531.5 1097.0,531.5 1099.5,531.4 1102.0,531.4 1104.5,531.4 1107.0,531.4 1109.5,531.4 1112.0,531.4 1114.5,531.4 1117.0,531.4 1119.5,531.4 1120.0,531.4 1122.0,531.4 1124.5,531.4 1127.0,531.4 1129.5,531.4 1132.0,531.4 1134.5,531.4 1137.0,531.4 1139.5,531.4 1142.0,531.4 1144.5,531.4 1147.0,531.4 1149.5,531.4 1152.0,531.4 1154.5,531.4 1157.0,531.4 1159.5,531.4 1162.0,531.4 1164.5,531.4 1167.0,531.4 1169.5,531.4 1172.0,531.4 1174.5,531.4 1177.0,531.4 1179.5,531.4 1182.0,531.4 1184.5,531.4 1187.0,531.4 1189.5,531.4 1192.0,531.4 1194.5,531.4 1197.0,531.5 1199.5,531.5 1202.0,531.5 1204.5,531.5 1207.0,531.5 1209.5,531.5 1212.0,531.5 1214.5,531.5 1217.0,531.5 1219.5,531.5 1222.0,531.5 1224.5,531.5 1227.0,531.5 1229.5,531.5 1230.0,531.5 1232.0,531.5 1234.5,531.5 1237.0,531.5 1239.5,531.5 1242.0,531.5 1244.5,531.5 1247.0,531.6 1249.5,531.6 1252.0,531.6 1254.5,531.6 1257.0,531.6 1259.5,531.6 1262.0,531.7 1264.5,531.7 1267.0,531.7 1269.5,531.7 1272.0,531.7 1274.5,531.8 1277.0,531.8 1279.5,531.8 1282.0,531.9 1284.5,531.9 1287.0,531.9 1289.5,532.0 1292.0,532.0 1294.5,532.0 1297.0,532.1 1299.5,532.1 1302.0,532.1 1304.5,532.2 1307.0,532.2 1309.5,532.3 1312.0,532.3 1314.5,532.4 1317.0,532.4 1319.5,532.5 1322.0,532.5 1324.5,532.6 1327.0,532.6 1329.5,532.7 1332.0,532.7 1334.5,532.8 1337.0,532.8 1339.5,532.9 1340.0,532.9 1342.0,532.9 1344.5,533.0 1347.0,533.1 1349.5,533.2 1352.0,533.3 1354.5,533.4 1357.0,533.6 1359.5,533.8 1361.1,534.0 1362.0,534.3 1364.5,536.5 1367.0,540.0 1368.2,541.7 1369.5,544.1 1372.0,550.4 1374.5,556.6 1377.0,559.3 1379.5,559.2 1382.0,559.0 1384.5,558.6 1387.0,558.1 1389.3,557.6 1389.5,557.5 1392.0,555.8 1394.5,552.6 1397.0,548.9 1399.5,545.4 1402.0,543.0 1403.4,542.4 1404.5,542.2 1407.0,541.8 1409.5,541.5 1412.0,541.2 1414.5,541.1 1417.0,541.0 1417.5,541.0 1419.5,541.0 1422.0,541.1 1424.5,541.2 1427.0,541.4 1429.5,541.5 1432.0,541.7 1434.5,541.9 1437.0,542.1 1439.5,542.2 1442.0,542.3 1444.5,542.4 1445.7,542.4 1447.0,542.4 1449.5,542.4 1452.0,542.3 1454.5,542.2 1457.0,542.1 1459.5,542.0 1462.0,541.9 1464.5,541.8 1467.0,541.6 1469.5,541.5 1472.0,541.3 1474.5,541.2 1477.0,541.0 1479.5,540.8 1482.0,540.7 1484.5,540.6 1487.0,540.4 1489.5,540.3 1492.0,540.2 1494.5,540.1 1497.0,540.1 1499.5,540.0 1502.0,540.0 1502.1,540.0 1504.5,540.4 1507.0,541.6 1509.5,543.4 1512.0,545.4 1514.5,547.5 1516.2,548.8 1517.0,549.4 1519.5,551.6 1522.0,554.0 1524.5,556.4 1527.0,558.7 1529.5,560.6 1530.3,561.1 1532.0,562.1 1534.5,563.6 1537.0,564.8 1539.5,565.6 1540.9,565.7 1542.0,565.6 1544.5,564.9 1547.0,563.6 1549.5,562.2 1551.5,561.1 1552.0,560.8 1554.5,559.0 1557.0,557.1 1559.5,555.9 1560.3,555.8 1562.0,557.0 1564.5,561.6 1567.0,566.4 1569.1,568.2 1569.5,568.2 1572.0,567.0 1574.5,564.7 1577.0,561.9 1579.5,559.4 1582.0,557.8 1583.2,557.6 1584.5,557.6 1587.0,557.9 1589.5,558.3 1592.0,558.8 1594.5,559.1 1597.0,559.3 1597.3,559.3 1599.5,559.2 1602.0,558.9 1604.5,558.4 1607.0,558.0 1609.5,557.7 1611.4,557.6 1612.0,557.7 1614.5,559.9 1617.0,563.9 1619.5,568.3 1622.0,571.7 1624.5,574.2 1627.0,576.8 1629.5,579.1 1632.0,581.0 1634.5,582.1 1636.1,582.3 1637.0,582.2 1639.5,581.3 1642.0,579.5 1644.5,577.3 1646.7,575.2 1647.0,574.9 1649.5,571.1 1652.0,566.1 1654.5,561.2 1657.0,557.8 1657.2,557.6 1659.5,555.8 1662.0,554.0 1664.5,552.5 1667.0,551.4 1669.5,550.7 1671.3,550.5 1672.0,550.5 1674.5,550.5 1677.0,550.6 1679.5,550.7 1682.0,550.9 1684.5,551.2 1687.0,551.6 1687.2,551.6 1689.5,557.8 1692.0,567.4 1692.5,568.2 1694.5,569.8 1697.0,571.2 1699.5,572.1 1702.0,572.8 1704.5,573.9 1706.6,575.2 1707.0,575.5 1709.5,579.0 1712.0,584.0 1714.5,589.5 1717.0,594.2 1719.5,597.0 1720.7,597.4 1722.0,597.3 1724.5,596.4 1727.0,594.9 1729.5,593.1 1732.0,591.3 1734.5,589.7 1737.0,588.6 1738.3,588.3 1739.5,588.2 1742.0,587.9 1744.5,587.8 1747.0,587.7 1749.5,587.6 1752.0,587.4 1754.5,587.2 1757.0,586.9 1757.7,586.8 1759.5,585.5 1762.0,581.3 1764.5,576.4 1766.5,573.4 1767.0,572.8 1769.5,569.9 1772.0,567.1 1774.5,564.3 1777.0,562.0 1779.5,560.1 1782.0,558.9 1784.1,558.6 1784.5,558.6 1787.0,558.9 1789.5,559.4 1792.0,560.1 1794.5,560.7 1797.0,561.0 1798.2,561.1 1799.5,561.1 1802.0,560.8 1804.5,560.4 1807.0,559.8 1809.5,559.1 1812.0,558.4 1814.5,557.5 1817.0,556.7 1819.5,555.8 1822.0,555.0 1824.5,554.3 1827.0,553.7 1829.5,553.3 1832.0,553.0 1833.5,553.0 1834.5,553.2 1837.0,555.0 1839.5,558.3 1842.0,562.2 1844.5,565.9 1847.0,568.7 1849.3,569.9 1849.5,569.9 1852.0,570.2 1854.5,570.4 1857.0,570.5 1859.5,570.6 1859.9,570.6 1862.0,570.2 1864.5,569.0 1867.0,567.2 1869.5,565.0 1872.0,562.9 1874.5,561.0 1877.0,559.7 1879.3,559.3 1879.5,559.3 1882.0,559.3 1884.5,559.3 1887.0,559.3 1889.5,559.3 1892.0,559.3 1893.4,559.3 1894.5,559.3 1897.0,559.4 1899.5,559.7 1902.0,560.0 1904.5,560.5 1907.0,561.0 1909.5,561.6 1912.0,562.3 1914.5,563.1 1917.0,563.9 1919.5,564.8 1922.0,565.8 1924.5,566.7 1927.0,567.7 1929.5,568.7 1932.0,569.7 1934.5,570.7 1937.0,571.7 1939.5,572.7 1942.0,573.6 1944.5,574.6 1946.3,575.2 1947.0,575.4 1949.5,576.4 1952.0,577.6 1954.5,578.8 1957.0,580.1 1959.5,581.4 1962.0,582.8 1964.5,584.1 1967.0,585.3 1969.5,586.4 1972.0,587.4 1974.5,588.2 1977.0,588.8 1979.5,589.2 1981.5,589.3 1982.0,589.3 1984.5,589.1 1987.0,588.7 1989.5,588.2 1992.0,587.6 1994.5,587.0 1997.0,586.4 1999.5,586.0 2002.0,585.8 2002.7,585.8 2004.5,585.8 2007.0,585.8 2009.5,585.9 2012.0,586.0 2014.5,586.1 2017.0,586.3 2019.5,586.4 2022.0,586.5 2024.5,586.7 2027.0,586.8 2029.5,587.0 2032.0,587.1 2034.5,587.2 2037.0,587.3 2039.5,587.4 2042.0,587.5 2044.5,587.5 2045.0,587.5 2047.0,587.4 2049.5,587.1 2052.0,586.6 2054.5,586.0 2057.0,585.4 2059.5,584.8 2062.0,584.3 2064.5,584.1 2066.1,584.0 2067.0,584.1 2069.5,584.8 2072.0,586.0 2074.5,587.4 2077.0,588.6 2079.5,589.3 2080.2,589.3 2082.0,589.2 2084.5,588.5 2087.0,587.4 2089.5,585.9 2092.0,584.0" fill="none" stroke="#8000ff" stroke-width="6" stroke-linejoin="round" stroke-linecap="round"/>
<path d="M164.5,653.5 167.0,653.5 169.5,653.5 172.0,653.5 174.5,653.5 177.0,653.5 179.5,653.5 182.0,653.5 184.5,653.5 187.0,653.5 189.5,653.5 192.0,653.5 194.5,653.5 197.0,653.5 199.5,653.5 202.0,653.5 204.5,653.5 207.0,653.5 209.5,653.5 212.0,653.5 214.5,653.5 217.0,653.5 219.5,653.5 222.0,653.5 224.5,653.5 227.0,653.5 229.5,653.5 232.0,653.5 234.5,653.5 237.0,653.5 239.5,653.5 242.0,653.5 244.5,653.5 247.0,653.5 249.5,653.5 252.0,653.5 254.5,653.5 257.0,653.5 259.5,653.5 262.0,653.5 264.5,653.5 267.0,653.5 269.5,653.5 272.0,653.5 274.5,653.5 277.0,653.5 279.5,653.5 282.0,653.5 284.5,653.5 287.0,653.5 289.5,653.5 292.0,653.5 294.5,653.5 297.0,653.5 299.5,653.5 302.0,653.5 304.5,655.2 306.5,656.5 307.0,656.4 309.5,654.9 311.0,654.0 312.0,653.6 314.5,652.7 317.0,652.1 318.0,652.0 319.5,651.9 322.0,651.8 324.5,651.7 327.0,651.6 329.5,651.6 330.0,651.6 332.0,651.6 334.5,651.6 337.0,651.7 339.5,651.7 342.0,651.8 344.5,651.8 347.0,651.9 349.5,652.0 352.0,652.1 353.2,652.1 354.5,652.2 357.0,652.3 359.5,652.6 362.0,652.9 364.5,653.2 367.0,653.7 369.5,654.1 372.0,654.6 374.5,655.2 377.0,655.8 379.5,656.4 382.0,657.0 384.5,657.7 387.0,658.4 389.5,659.0 392.0,659.7 394.5,660.4 397.0,661.0 399.5,661.7 399.6,661.7 402.0,662.3 404.5,663.0 407.0,663.7 409.5,664.5 412.0,665.3 414.5,666.1 417.0,666.9 419.5,667.7 422.0,668.6 424.5,669.4 427.0,670.3 429.5,671.2 432.0,672.0 434.5,672.9 437.0,673.8 439.5,674.6 442.0,675.4 444.5,676.2 446.0,676.7 447.0,677.0 449.5,677.8 452.0,678.6 454.5,679.5 457.0,680.3 459.5,681.1 462.0,681.9 464.5,682.7 467.0,683.5 469.5,684.3 472.0,685.0 474.5,685.7 477.0,686.3 479.5,686.9 480.7,687.2 482.0,687.5 484.5,688.0 487.0,688.6 489.5,689.2 492.0,689.7 494.5,690.3 497.0,690.8 499.5,691.3 502.0,691.7 504.5,692.1 507.0,692.5 509.5,692.7 512.0,692.9 514.5,693.0 515.5,693.0 517.0,693.0 519.5,693.0 522.0,693.0 524.5,692.9 527.0,692.9 529.5,692.8 532.0,692.7 534.5,692.6 537.0,692.6 538.7,692.5 539.5,692.5 542.0,692.3 544.5,692.1 547.0,691.7 549.5,691.4 552.0,690.9 554.5,690.4 557.0,689.9 559.5,689.3 562.0,688.8 564.5,688.2 567.0,687.5 569.5,686.9 572.0,686.3 573.5,686.0 574.5,685.8 577.0,685.1 579.5,684.5 582.0,683.8 584.5,683.0 587.0,682.3 589.5,681.5 592.0,680.7 594.5,679.9 597.0,679.1 599.5,678.3 602.0,677.5 604.5,676.7 607.0,676.0 608.3,675.6 609.5,675.3 612.0,674.5 614.5,673.8 617.0,673.1 619.5,672.3 622.0,671.6 624.5,670.9 627.0,670.2 629.5,669.5 632.0,668.8 634.5,668.2 637.0,667.6 639.5,667.0 642.0,666.5 643.0,666.3 644.5,666.0 647.0,665.5 649.5,665.1 652.0,664.6 654.5,664.1 657.0,663.7 659.5,663.3 662.0,662.9 664.5,662.5 667.0,662.2 669.5,661.9 672.0,661.6 674.5,661.3 677.0,661.1 677.9,661.0 679.5,660.9 682.0,660.7 684.5,660.5 687.0,660.3 689.5,660.1 692.0,660.0 694.5,659.8 697.0,659.7 699.5,659.6 702.0,659.5 704.5,659.4 707.0,659.4 708.0,659.4 709.5,659.5 712.0,660.1 714.5,661.1 717.0,662.5 719.5,663.9 719.6,664.0 722.0,666.6 724.5,670.8 727.0,675.2 729.5,678.4 731.2,679.1 732.0,679.1 734.5,679.1 737.0,679.1 739.5,679.1 742.0,679.1 744.5,679.1 745.1,679.1 747.0,678.5 749.5,676.4 752.0,673.6 754.5,671.1 756.7,669.8 757.0,669.7 759.5,669.0 762.0,668.4 764.5,667.9 767.0,667.4 769.5,667.0 772.0,666.7 774.5,666.4 777.0,666.1 779.5,665.8 782.0,665.5 784.5,665.2 787.0,664.9 789.5,664.6 792.0,664.3 793.8,664.0 794.5,663.9 797.0,663.5 799.5,663.0 802.0,662.5 804.5,662.0 807.0,661.5 809.5,661.0 812.0,660.5 814.5,660.0 817.0,659.6 819.5,659.2 822.0,658.9 824.5,658.6 827.0,658.3 828.6,658.2 829.5,658.1 832.0,658.0 834.5,657.8 837.0,657.7 839.5,657.6 842.0,657.4 844.5,657.3 847.0,657.2 849.5,657.0 852.0,656.9 854.5,656.8 857.0,656.7 859.5,656.6 862.0,656.5 864.5,656.4 867.0,656.3 869.5,656.2 872.0,656.1 874.5,656.0 877.0,655.9 879.5,655.8 882.0,655.7 884.5,655.6 887.0,655.5 889.5,655.5 892.0,655.4 894.5,655.3 897.0,655.2 899.5,655.2 902.0,655.1 904.5,655.0 907.0,655.0 909.5,654.9 912.0,654.8 914.5,654.8 917.0,654.7 919.5,654.7 922.0,654.6 924.5,654.6 927.0,654.5 929.5,654.5 932.0,654.4 934.5,654.4 937.0,654.3 939.5,654.3 942.0,654.2 944.5,654.2 947.0,654.1 949.5,654.1 952.0,654.0 954.5,654.0 957.0,653.9 959.5,653.9 962.0,653.8 964.5,653.8 967.0,653.8 969.5,653.7 970.0,653.7 972.0,653.7 974.5,653.6 977.0,653.6 979.5,653.5 982.0,653.5 984.5,653.4 987.0,653.4 989.5,653.3 992.0,653.3 994.5,653.3 997.0,653.2 999.5,653.2 1002.0,653.1 1004.5,653.1 1007.0,653.0 1009.5,653.0 1012.0,652.9 1014.5,652.9 1017.0,652.9 1019.5,652.8 1022.0,652.8 1024.5,652.7 1027.0,652.7 1029.5,652.6 1032.0,652.6 1034.5,652.6 1037.0,652.5 1039.5,652.5 1042.0,652.5 1044.5,652.4 1047.0,652.4 1049.5,652.3 1052.0,652.3 1054.5,652.3 1057.0,652.2 1059.5,652.2 1062.0,652.2 1064.5,652.2 1067.0,652.1 1069.5,652.1 1072.0,652.1 1074.5,652.0 1077.0,652.0 1079.5,652.0 1082.0,652.0 1084.5,652.0 1087.0,651.9 1089.5,651.9 1092.0,651.9 1094.5,651.9 1097.0,651.9 1099.5,651.9 1102.0,651.8 1104.5,651.8 1107.0,651.8 1109.5,651.8 1112.0,651.8 1114.5,651.8 1117.0,651.8 1119.5,651.8 1120.0,651.8 1122.0,651.8 1124.5,651.8 1127.0,651.8 1129.5,651.8 1132.0,651.8 1134.5,651.8 1137.0,651.8 1139.5,651.8 1142.0,651.8 1144.5,651.8 1147.0,651.8 1149.5,651.8 1152.0,651.8 1154.5,651.8 1157.0,651.8 1159.5,651.8 1162.0,651.8 1164.5,651.8 1167.0,651.8 1169.5,651.8 1172.0,651.8 1174.5,651.8 1177.0,651.8 1179.5,651.8 1182.0,651.8 1184.5,651.8 1187.0,651.8 1189.5,651.8 1192.0,651.8 1194.5,651.8 1197.0,651.8 1199.5,651.8 1202.0,651.8 1204.5,651.9 1207.0,651.9 1209.5,651.9 1212.0,651.9 1214.5,651.9 1217.0,651.9 1219.5,651.9 1222.0,651.9 1224.5,651.9 1227.0,651.9 1229.5,651.9 1232.0,651.9 1234.5,651.9 1237.0,651.9 1239.5,651.9 1242.0,651.9 1244.5,651.9 1247.0,652.0 1249.5,652.0 1252.0,652.0 1254.5,652.0 1257.0,652.0 1259.5,652.0 1262.0,652.0 1264.5,652.0 1267.0,652.0 1269.5,652.0 1272.0,652.1 1274.5,652.1 1277.0,652.1 1279.5,652.1 1282.0,652.1 1284.5,652.1 1287.0,652.1 1289.5,652.2 1292.0,652.2 1294.5,652.2 1297.0,652.2 1299.5,652.2 1302.0,652.2 1304.5,652.2 1307.0,652.3 1309.5,652.3 1312.0,652.3 1314.5,652.3 1317.0,652.3 1319.5,652.4 1322.0,652.4 1324.5,652.4 1327.0,652.4 1329.5,652.4 1332.0,652.5 1334.5,652.5 1337.0,652.5 1339.5,652.5 1342.0,652.6 1344.5,652.6 1347.0,652.6 1349.5,652.6 1352.0,652.7 1354.5,652.7 1356.4,652.7 1357.0,652.7 1359.5,653.7 1362.0,655.8 1364.5,658.7 1367.0,662.2 1367.7,663.2 1369.5,668.2 1372.0,678.2 1374.5,683.6 1377.0,683.6 1379.5,683.5 1382.0,683.3 1384.5,683.1 1387.0,682.8 1388.0,682.7 1389.5,681.7 1392.0,677.5 1394.5,671.8 1397.0,666.8 1399.5,664.5 1402.0,664.3 1404.5,664.2 1407.0,664.0 1409.5,663.9 1412.0,663.8 1414.5,663.8 1417.0,663.7 1419.5,663.6 1422.0,663.6 1424.5,663.6 1427.0,663.5 1429.5,663.5 1432.0,663.4 1434.5,663.3 1437.0,663.2 1438.0,663.2 1439.5,663.1 1442.0,663.0 1444.5,662.9 1447.0,662.7 1449.5,662.6 1452.0,662.4 1454.5,662.2 1457.0,662.1 1459.5,661.9 1462.0,661.7 1464.5,661.5 1467.0,661.3 1469.5,661.2 1472.0,661.0 1474.5,660.8 1477.0,660.7 1479.5,660.5 1482.0,660.4 1484.5,660.3 1487.0,660.2 1489.5,660.1 1492.0,660.1 1494.5,660.0 1497.0,660.0 1497.3,660.0 1499.5,660.3 1502.0,661.3 1504.5,662.9 1507.0,664.7 1509.5,666.6 1511.0,667.7 1512.0,668.5 1514.5,670.9 1517.0,673.8 1519.5,677.0 1522.0,680.2 1524.5,683.4 1527.0,686.2 1529.5,688.5 1532.0,690.0 1533.6,690.5 1534.5,690.6 1537.0,691.0 1539.5,691.3 1542.0,691.6 1544.5,691.7 1547.0,691.8 1547.3,691.8 1549.5,690.9 1552.0,688.4 1554.5,685.4 1557.0,683.2 1558.6,682.7 1559.5,682.9 1562.0,685.3 1564.5,689.2 1567.0,692.9 1569.5,694.9 1570.0,695.0 1572.0,693.9 1574.5,690.5 1577.0,687.1 1579.0,686.0 1579.5,686.0 1582.0,686.0 1584.5,686.0 1587.0,686.1 1589.5,686.1 1592.0,686.2 1594.5,686.3 1597.0,686.4 1599.5,686.5 1602.0,686.6 1604.5,686.8 1607.0,687.0 1609.5,687.2 1611.0,687.3 1612.0,687.5 1614.5,689.2 1617.0,692.0 1619.5,695.4 1622.0,698.8 1624.5,701.8 1627.0,704.8 1629.5,708.0 1632.0,711.0 1634.5,712.8 1636.0,713.2 1637.0,713.1 1639.5,711.9 1642.0,709.8 1644.5,707.2 1647.0,704.3 1647.3,704.0 1649.5,700.7 1652.0,695.6 1654.5,689.9 1657.0,684.5 1659.5,680.5 1661.0,679.0 1662.0,678.4 1664.5,676.8 1667.0,675.5 1669.5,674.5 1672.0,673.8 1674.5,673.6 1677.0,673.8 1679.5,674.2 1682.0,675.0 1684.5,676.0 1686.0,676.8 1687.0,678.3 1689.5,687.3 1692.0,696.1 1692.7,697.3 1694.5,698.8 1697.0,700.1 1699.5,701.2 1701.8,702.7 1702.0,702.9 1704.5,705.5 1707.0,709.0 1709.5,713.0 1711.0,715.5 1712.0,717.5 1714.5,724.1 1717.0,731.3 1719.5,736.3 1721.0,737.3 1722.0,737.2 1724.5,736.1 1727.0,734.2 1729.5,731.7 1732.0,729.1 1734.5,726.7 1737.0,725.0 1738.0,724.5 1739.5,724.0 1742.0,723.4 1744.5,722.9 1747.0,722.5 1749.5,722.1 1752.0,721.6 1754.5,720.8 1756.4,720.0 1757.0,719.6 1759.5,715.3 1762.0,709.1 1764.5,703.4 1765.5,701.8 1767.0,699.9 1769.5,696.7 1772.0,693.8 1774.5,691.1 1777.0,688.8 1779.5,687.2 1782.0,686.2 1783.6,686.0 1784.5,686.0 1787.0,686.0 1789.5,686.0 1792.0,686.0 1794.5,686.0 1797.0,686.0 1799.5,686.0 1801.8,686.0 1802.0,686.0 1804.5,685.8 1807.0,685.4 1809.5,684.8 1812.0,684.0 1814.5,683.1 1817.0,682.2 1819.5,681.2 1822.0,680.2 1824.5,679.2 1827.0,678.4 1829.5,677.7 1832.0,677.1 1834.5,676.9 1836.0,676.8 1837.0,677.1 1839.5,680.0 1842.0,684.9 1844.5,690.3 1847.0,694.9 1849.5,697.3 1852.0,698.1 1854.5,698.7 1857.0,699.2 1859.5,699.5 1861.0,699.5 1862.0,699.4 1864.5,698.7 1867.0,697.4 1869.5,695.6 1872.0,693.6 1874.5,691.6 1877.0,689.8 1879.5,688.4 1882.0,687.5 1883.6,687.3 1884.5,687.3 1887.0,687.3 1889.5,687.4 1892.0,687.5 1894.5,687.7 1897.0,687.8 1899.5,688.0 1901.8,688.2 1902.0,688.2 1904.5,688.5 1907.0,689.0 1909.5,689.7 1912.0,690.5 1914.5,691.4 1917.0,692.5 1919.5,693.7 1922.0,695.0 1924.5,696.4 1927.0,697.9 1929.5,699.5 1932.0,701.1 1934.5,702.7 1937.0,704.4 1939.5,706.0 1942.0,707.7 1944.5,709.4 1947.0,711.0 1949.5,712.6 1952.0,714.1 1954.5,715.6 1957.0,717.0 1959.5,718.2 1962.0,719.4 1964.5,720.5 1967.0,721.4 1969.5,722.2 1972.0,722.8 1974.5,723.3 1977.0,723.5 1979.0,723.6 1979.5,723.6 1982.0,723.4 1984.5,722.9 1987.0,722.3 1989.5,721.6 1992.0,720.8 1994.5,720.1 1997.0,719.5 1999.5,719.1 2001.8,719.0 2002.0,719.0 2004.5,719.0 2007.0,719.1 2009.5,719.2 2012.0,719.3 2014.5,719.4 2017.0,719.5 2019.5,719.7 2022.0,719.8 2024.5,720.0 2027.0,720.2 2029.5,720.3 2032.0,720.5 2034.5,720.6 2037.0,720.7 2039.5,720.8 2042.0,720.9 2044.5,721.0 2047.0,721.0 2047.3,721.0 2049.5,720.8 2052.0,720.1 2054.5,719.1 2057.0,718.0 2059.5,716.9 2062.0,716.0 2064.5,715.5 2065.5,715.5 2067.0,715.5 2069.5,715.5 2072.0,715.5 2074.5,715.6 2077.0,715.7 2079.5,715.9 2082.0,716.2 2084.5,716.5 2087.0,717.0 2089.5,717.6 2092.0,718.3 2094.0,719.0" fill="none" stroke="#000080" stroke-width="6" stroke-linejoin="round" stroke-linecap="round"/>
<path d="M164.5,776.5 167.0,776.5 169.5,776.5 172.0,776.5 174.5,776.5 177.0,776.5 179.5,776.5 182.0,776.5 184.5,776.5 187.0,776.5 189.5,776.5 192.0,776.5 194.5,776.5 197.0,776.5 199.5,776.5 202.0,776.5 204.5,776.5 207.0,776.5 209.5,776.5 212.0,776.5 214.5,776.5 217.0,776.5 219.5,776.5 222.0,776.5 224.5,776.5 227.0,776.5 229.5,776.5 232.0,776.5 234.5,776.5 237.0,776.5 239.5,776.5 242.0,776.5 244.5,776.5 247.0,776.5 249.5,776.5 252.0,776.5 254.5,776.5 257.0,776.5 259.5,776.5 262.0,776.5 264.5,776.5 267.0,776.5 269.5,776.5 272.0,776.5 274.5,776.5 277.0,776.5 279.5,776.5 282.0,776.5 284.5,776.5 287.0,776.5 289.5,776.5 292.0,776.5 294.5,776.5 297.0,776.5 299.5,776.5 302.0,776.5 304.5,778.2 306.5,779.5 307.0,779.4 309.5,777.9 311.0,777.0 312.0,776.6 314.5,775.8 317.0,775.1 318.0,775.0 319.5,774.9 322.0,774.6 324.5,774.5 327.0,774.4 329.5,774.3 330.0,774.3 332.0,774.3 334.5,774.3 337.0,774.4 339.5,774.4 342.0,774.5 344.5,774.5 347.0,774.6 349.5,774.7 352.0,774.8 354.5,774.9 357.0,775.0 359.5,775.2 360.1,775.2 362.0,775.3 364.5,775.6 367.0,775.9 369.5,776.3 372.0,776.8 374.5,777.4 377.0,778.0 379.5,778.7 382.0,779.4 384.5,780.1 387.0,780.8 389.5,781.5 392.0,782.3 394.5,783.0 397.0,783.7 399.5,784.4 399.6,784.4 402.0,785.0 404.5,785.7 407.0,786.4 409.5,787.1 412.0,787.9 414.5,788.6 417.0,789.4 419.5,790.1 422.0,790.9 424.5,791.7 427.0,792.4 429.5,793.2 432.0,794.0 434.5,794.8 437.0,795.5 439.5,796.3 442.0,797.1 444.5,797.8 446.0,798.3 447.0,798.6 449.5,799.4 452.0,800.1 454.5,800.9 457.0,801.7 459.5,802.5 462.0,803.3 464.5,804.1 467.0,804.9 469.5,805.6 472.0,806.4 474.5,807.1 477.0,807.8 479.5,808.4 480.7,808.7 482.0,809.0 484.5,809.7 487.0,810.3 489.5,811.0 492.0,811.7 494.5,812.3 497.0,813.0 499.5,813.6 502.0,814.1 504.5,814.6 507.0,815.0 509.5,815.4 512.0,815.6 514.5,815.7 515.5,815.7 517.0,815.7 519.5,815.7 522.0,815.6 524.5,815.6 527.0,815.5 529.5,815.4 532.0,815.3 534.1,815.2 534.5,815.2 537.0,815.0 539.5,814.8 542.0,814.6 544.5,814.3 547.0,813.9 549.5,813.5 552.0,813.1 554.5,812.7 557.0,812.2 559.5,811.7 562.0,811.2 564.5,810.6 567.0,810.1 569.5,809.6 572.0,809.0 573.5,808.7 574.5,808.5 577.0,807.9 579.5,807.2 582.0,806.5 584.5,805.8 587.0,805.0 589.5,804.3 592.0,803.4 594.5,802.6 597.0,801.8 599.5,801.0 602.0,800.2 604.5,799.4 607.0,798.7 608.3,798.3 609.5,798.0 612.0,797.2 614.5,796.5 617.0,795.8 619.5,795.1 622.0,794.3 624.5,793.6 627.0,792.9 629.5,792.3 632.0,791.6 634.5,791.0 637.0,790.3 639.5,789.8 642.0,789.2 643.0,789.0 644.5,788.7 647.0,788.2 649.5,787.7 652.0,787.1 654.5,786.6 657.0,786.1 659.5,785.7 662.0,785.2 664.5,784.8 667.0,784.4 669.5,784.0 672.0,783.7 674.5,783.5 677.0,783.3 677.9,783.2 679.5,783.1 682.0,782.9 684.5,782.8 687.0,782.7 689.5,782.5 692.0,782.4 694.5,782.3 697.0,782.2 699.5,782.1 702.0,782.1 704.5,782.0 707.0,782.0 708.0,782.0 709.5,782.1 712.0,782.7 714.5,783.8 717.0,785.1 719.5,786.6 719.6,786.7 722.0,789.2 724.5,793.0 727.0,797.0 729.5,799.9 731.2,800.6 732.0,800.6 734.5,800.6 737.0,800.6 739.5,800.6 742.0,800.6 744.5,800.6 745.1,800.6 747.0,800.0 749.5,797.9 752.0,795.1 754.5,792.6 756.7,791.3 757.0,791.2 759.5,790.5 762.0,789.9 764.5,789.4 767.0,788.9 769.5,788.5 772.0,788.2 774.5,787.9 777.0,787.6 779.5,787.3 782.0,787.0 784.5,786.7 787.0,786.4 789.5,786.1 792.0,785.8 793.8,785.5 794.5,785.4 797.0,784.9 799.5,784.5 802.0,784.0 804.5,783.4 807.0,782.9 809.5,782.4 812.0,781.9 814.5,781.4 817.0,781.0 819.5,780.6 822.0,780.2 824.5,780.0 827.0,779.8 828.6,779.7 829.5,779.7 832.0,779.6 834.5,779.5 837.0,779.4 839.5,779.4 842.0,779.3 844.5,779.2 847.0,779.2 849.5,779.1 852.0,779.0 854.5,779.0 857.0,778.9 859.5,778.9 862.0,778.8 864.5,778.8 867.0,778.7 869.5,778.7 872.0,778.7 874.5,778.6 877.0,778.6 879.5,778.5 882.0,778.5 884.5,778.5 887.0,778.4 889.5,778.4 892.0,778.4 894.5,778.4 897.0,778.3 899.5,778.3 902.0,778.3 904.5,778.3 907.0,778.2 909.5,778.2 912.0,778.2 914.5,778.2 917.0,778.1 919.5,778.1 922.0,778.1 924.5,778.1 927.0,778.0 929.5,778.0 932.0,778.0 934.5,778.0 937.0,777.9 939.5,777.9 942.0,777.9 944.5,777.9 947.0,777.8 949.5,777.8 952.0,777.8 954.5,777.7 957.0,777.7 959.5,777.7 962.0,777.6 964.5,777.6 967.0,777.6 969.5,777.5 970.0,777.5 972.0,777.5 974.5,777.4 977.0,777.4 979.5,777.3 982.0,777.3 984.5,777.2 987.0,777.2 989.5,777.1 992.0,777.0 994.5,777.0 997.0,776.9 999.5,776.9 1002.0,776.8 1004.5,776.7 1007.0,776.7 1009.5,776.6 1012.0,776.5 1014.5,776.5 1017.0,776.4 1019.5,776.3 1022.0,776.3 1024.5,776.2 1027.0,776.1 1029.5,776.1 1032.0,776.0 1034.5,775.9 1037.0,775.9 1039.5,775.8 1042.0,775.7 1044.5,775.7 1047.0,775.6 1049.5,775.6 1052.0,775.5 1054.5,775.4 1057.0,775.4 1059.5,775.3 1062.0,775.3 1064.5,775.2 1067.0,775.1 1069.5,775.1 1072.0,775.0 1074.5,775.0 1077.0,774.9 1079.5,774.9 1082.0,774.9 1084.5,774.8 1087.0,774.8 1089.5,774.7 1092.0,774.7 1094.5,774.7 1097.0,774.6 1099.5,774.6 1102.0,774.6 1104.5,774.6 1107.0,774.5 1109.5,774.5 1112.0,774.5 1114.5,774.5 1117.0,774.5 1119.5,774.5 1120.0,774.5 1122.0,774.5 1124.5,774.5 1127.0,774.5 1129.5,774.5 1132.0,774.5 1134.5,774.5 1137.0,774.5 1139.5,774.5 1142.0,774.5 1144.5,774.5 1147.0,774.5 1149.5,774.5 1152.0,774.5 1154.5,774.5 1157.0,774.5 1159.5,774.6 1162.0,774.6 1164.5,774.6 1167.0,774.6 1169.5,774.6 1172.0,774.6 1174.5,774.6 1177.0,774.6 1179.5,774.6 1182.0,774.6 1184.5,774.6 1187.0,774.6 1189.5,774.6 1192.0,774.7 1194.5,774.7 1197.0,774.7 1199.5,774.7 1202.0,774.7 1204.5,774.7 1207.0,774.7 1209.5,774.7 1212.0,774.7 1214.5,774.7 1217.0,774.8 1219.5,774.8 1222.0,774.8 1224.5,774.8 1227.0,774.8 1229.5,774.8 1230.0,774.8 1232.0,774.8 1234.5,774.8 1237.0,774.8 1239.5,774.8 1242.0,774.8 1244.5,774.8 1247.0,774.9 1249.5,774.9 1252.0,774.9 1254.5,774.9 1257.0,774.9 1259.5,774.9 1262.0,774.9 1264.5,774.9 1267.0,774.9 1269.5,774.9 1272.0,774.9 1274.5,774.9 1277.0,775.0 1279.5,775.0 1282.0,775.0 1284.5,775.0 1287.0,775.0 1289.5,775.0 1292.0,775.0 1294.5,775.0 1297.0,775.0 1299.5,775.1 1302.0,775.1 1304.5,775.1 1307.0,775.1 1309.5,775.1 1312.0,775.1 1314.5,775.2 1317.0,775.2 1319.5,775.2 1322.0,775.2 1324.5,775.2 1327.0,775.3 1329.5,775.3 1332.0,775.3 1334.5,775.3 1337.0,775.4 1339.5,775.4 1340.0,775.4 1342.0,775.4 1344.5,775.5 1347.0,775.5 1349.5,775.6 1352.0,775.7 1354.5,775.8 1357.0,776.0 1359.5,776.2 1361.1,776.4 1362.0,776.7 1364.5,779.2 1367.0,783.1 1368.2,785.2 1369.5,788.4 1372.0,797.5 1374.5,804.2 1375.2,804.6 1377.0,804.6 1379.5,804.6 1382.0,804.6 1384.5,804.6 1387.0,804.6 1389.3,804.6 1389.5,804.6 1392.0,802.3 1394.5,797.5 1397.0,791.8 1399.5,787.1 1401.7,785.2 1402.0,785.1 1404.5,784.7 1407.0,784.3 1409.5,784.1 1412.0,783.9 1414.5,783.7 1417.0,783.5 1417.5,783.5 1419.5,783.4 1422.0,783.2 1424.5,783.1 1427.0,783.0 1429.5,782.9 1432.0,782.8 1434.5,782.7 1437.0,782.6 1439.5,782.6 1442.0,782.5 1444.5,782.4 1445.7,782.4 1447.0,782.4 1449.5,782.3 1452.0,782.2 1454.5,782.2 1457.0,782.1 1459.5,782.1 1462.0,782.0 1464.5,782.0 1467.0,781.9 1469.5,781.9 1472.0,781.8 1474.5,781.8 1477.0,781.8 1479.5,781.7 1482.0,781.7 1484.5,781.7 1487.0,781.7 1488.0,781.7 1489.5,781.8 1492.0,782.1 1494.5,782.6 1497.0,783.4 1499.5,784.2 1502.0,785.2 1502.1,785.2 1504.5,786.3 1507.0,788.0 1509.5,790.0 1512.0,792.2 1514.5,794.7 1517.0,797.1 1519.5,799.6 1522.0,801.8 1523.3,802.9 1524.5,803.9 1527.0,806.3 1529.5,808.9 1532.0,811.3 1534.5,813.4 1537.0,814.8 1539.2,815.2 1539.5,815.2 1542.0,815.0 1544.5,814.4 1547.0,813.6 1549.5,812.6 1551.5,811.7 1552.0,811.4 1554.5,808.7 1557.0,805.3 1559.5,803.1 1560.3,802.9 1562.0,804.3 1564.5,809.5 1567.0,815.0 1569.1,817.0 1569.5,817.0 1572.0,815.1 1574.5,811.6 1577.0,808.1 1579.5,806.4 1579.7,806.4 1582.0,806.5 1584.5,806.9 1587.0,807.3 1589.5,807.8 1592.0,808.1 1593.8,808.2 1594.5,808.2 1597.0,808.0 1599.5,807.6 1602.0,807.1 1604.5,806.6 1607.0,806.1 1609.5,805.8 1611.4,805.7 1612.0,805.8 1614.5,807.6 1617.0,811.0 1619.5,815.1 1622.0,818.7 1624.5,822.3 1627.0,826.4 1629.5,830.4 1632.0,833.8 1634.5,836.0 1636.1,836.4 1637.0,836.3 1639.5,834.8 1642.0,832.2 1644.5,828.8 1646.7,825.8 1647.0,825.4 1649.5,820.6 1652.0,814.6 1654.5,808.9 1657.0,804.8 1657.2,804.6 1659.5,802.4 1662.0,800.3 1664.5,798.5 1667.0,797.1 1669.5,796.1 1671.3,795.8 1672.0,795.7 1674.5,795.5 1677.0,795.4 1679.5,795.2 1682.0,795.1 1684.5,795.1 1685.4,795.1 1687.0,798.1 1689.5,809.6 1692.0,819.6 1692.5,820.5 1694.5,822.4 1697.0,824.1 1699.5,825.2 1702.0,826.3 1704.5,827.6 1706.6,829.3 1707.0,829.7 1709.5,834.1 1712.0,840.5 1714.5,847.4 1717.0,853.4 1719.5,857.0 1720.7,857.5 1722.0,857.3 1724.5,855.8 1727.0,853.3 1729.5,850.2 1732.0,847.0 1734.5,844.2 1737.0,842.2 1738.3,841.6 1739.5,841.3 1742.0,840.7 1744.5,840.4 1747.0,840.1 1749.5,839.9 1752.0,839.5 1754.5,839.1 1757.0,838.4 1757.7,838.1 1759.5,835.7 1762.0,828.7 1764.5,821.0 1766.5,817.0 1767.0,816.4 1769.5,813.6 1772.0,811.1 1774.5,808.9 1777.0,807.0 1779.5,805.7 1782.0,804.8 1784.1,804.6 1784.5,804.6 1787.0,804.8 1789.5,805.2 1792.0,805.7 1794.5,806.1 1797.0,806.4 1798.2,806.4 1799.5,806.4 1802.0,806.1 1804.5,805.6 1807.0,804.9 1809.5,804.0 1812.0,803.0 1814.5,802.0 1817.0,801.0 1819.5,799.9 1822.0,799.0 1824.5,798.1 1827.0,797.4 1829.5,796.9 1832.0,796.6 1833.5,796.5 1834.5,796.8 1837.0,799.5 1839.5,804.3 1842.0,809.9 1844.5,815.2 1847.0,819.1 1849.3,820.5 1849.5,820.5 1852.0,820.5 1854.5,820.5 1857.0,820.5 1859.5,820.5 1859.9,820.5 1862.0,820.0 1864.5,818.4 1867.0,816.0 1869.5,813.2 1872.0,810.4 1874.5,808.0 1877.0,806.3 1879.3,805.7 1879.5,805.7 1882.0,805.7 1884.5,805.7 1887.0,805.7 1889.5,805.7 1892.0,805.7 1893.4,805.7 1894.5,805.7 1897.0,805.9 1899.5,806.4 1902.0,807.0 1904.5,807.8 1907.0,808.7 1909.5,809.8 1912.0,811.1 1914.5,812.4 1917.0,813.8 1919.5,815.3 1922.0,816.9 1924.5,818.4 1927.0,820.0 1929.5,821.6 1932.0,823.2 1934.5,824.8 1937.0,826.3 1939.5,827.7 1942.0,829.0 1944.5,830.3 1946.3,831.1 1947.0,831.4 1949.5,832.6 1952.0,833.8 1954.5,835.1 1957.0,836.5 1959.5,837.8 1962.0,839.1 1964.5,840.4 1967.0,841.5 1969.5,842.6 1972.0,843.5 1974.5,844.2 1977.0,844.8 1979.5,845.1 1981.5,845.2 1982.0,845.2 1984.5,844.9 1987.0,844.4 1989.5,843.7 1992.0,842.9 1994.5,842.2 1997.0,841.8 1999.2,841.6 1999.5,841.6 2002.0,841.6 2004.5,841.6 2007.0,841.7 2009.5,841.7 2012.0,841.8 2014.5,841.8 2017.0,841.9 2019.5,841.9 2022.0,842.0 2024.5,842.1 2027.0,842.1 2029.5,842.2 2032.0,842.2 2034.5,842.3 2037.0,842.3 2039.5,842.4 2042.0,842.4 2044.5,842.4 2045.0,842.4 2047.0,842.2 2049.5,841.5 2052.0,840.4 2054.5,839.1 2057.0,837.7 2059.5,836.4 2062.0,835.4 2064.5,834.7 2066.1,834.6 2067.0,834.7 2069.5,835.4 2072.0,836.6 2074.5,838.0 2077.0,839.2 2079.5,839.9 2080.2,839.9 2082.0,839.8 2084.5,839.1 2087.0,838.0 2089.5,836.5 2092.0,834.6" fill="none" stroke="#008000" stroke-width="6" stroke-linejoin="round" stroke-linecap="round"/>
<path d="M164.5,898.5 167.0,898.5 169.5,898.5 172.0,898.5 174.5,898.5 177.0,898.5 179.5,898.5 182.0,898.5 184.5,898.5 187.0,898.5 189.5,898.5 192.0,898.5 194.5,898.5 197.0,898.5 199.5,898.5 202.0,898.5 204.5,898.5 207.0,898.5 209.5,898.5 212.0,898.5 214.5,898.5 217.0,898.5 219.5,898.5 222.0,898.5 224.5,898.5 227.0,898.5 229.5,898.5 232.0,898.5 234.5,898.5 237.0,898.5 239.5,898.5 242.0,898.5 244.5,898.5 247.0,898.5 249.5,898.5 252.0,898.5 254.5,898.5 257.0,898.5 259.5,898.5 262.0,898.5 264.5,898.5 267.0,898.5 269.5,898.5 272.0,898.5 274.5,898.5 277.0,898.5 279.5,898.5 282.0,898.5 284.5,898.5 287.0,898.5 289.5,898.5 292.0,898.5 294.5,898.5 297.0,898.5 299.5,898.5 302.0,898.5 304.5,900.2 306.5,901.5 307.0,901.4 309.5,899.9 311.0,899.0 312.0,898.6 314.5,897.8 317.0,897.2 318.0,897.0 319.5,896.8 322.0,896.5 324.5,896.3 327.0,896.1 329.5,895.9 330.0,895.9 332.0,895.8 334.5,895.7 337.0,895.6 339.5,895.5 342.0,895.4 344.5,895.3 347.0,895.3 349.5,895.2 352.0,895.2 353.2,895.2 354.5,895.2 357.0,895.3 359.5,895.5 362.0,895.8 364.5,896.2 367.0,896.7 369.5,897.2 372.0,897.8 374.5,898.5 377.0,899.2 379.5,899.9 382.0,900.6 384.5,901.4 387.0,902.2 389.5,903.0 392.0,903.8 394.5,904.5 397.0,905.3 399.5,906.0 399.6,906.0 402.0,906.7 404.5,907.4 407.0,908.2 409.5,908.9 412.0,909.7 414.5,910.6 417.0,911.4 419.5,912.3 422.0,913.1 424.5,914.0 427.0,914.9 429.5,915.8 432.0,916.7 434.5,917.6 437.0,918.5 439.5,919.4 442.0,920.3 444.5,921.2 446.0,921.7 447.0,922.1 449.5,923.0 452.0,923.9 454.5,924.9 457.0,925.9 459.5,927.0 462.0,928.0 464.5,929.0 467.0,929.9 469.5,930.9 472.0,931.8 474.5,932.7 477.0,933.5 479.5,934.2 480.7,934.5 482.0,934.8 484.5,935.5 487.0,936.2 489.5,936.9 492.0,937.6 494.5,938.2 497.0,938.9 499.5,939.5 502.0,940.0 504.5,940.5 507.0,940.9 509.5,941.2 512.0,941.4 514.5,941.5 515.5,941.5 517.0,941.5 519.5,941.5 522.0,941.5 524.5,941.5 527.0,941.5 529.5,941.5 532.0,941.5 534.5,941.5 537.0,941.5 538.7,941.5 539.5,941.5 542.0,941.4 544.5,941.2 547.0,941.0 549.5,940.7 552.0,940.3 554.5,939.9 557.0,939.4 559.5,938.9 562.0,938.3 564.5,937.8 567.0,937.2 569.5,936.6 572.0,936.0 573.5,935.7 574.5,935.5 577.0,934.8 579.5,934.1 582.0,933.3 584.5,932.5 587.0,931.6 589.5,930.7 592.0,929.8 594.5,928.9 597.0,928.0 599.5,927.0 602.0,926.2 604.5,925.3 607.0,924.5 608.3,924.1 609.5,923.7 612.0,923.0 614.5,922.3 617.0,921.6 619.5,920.9 622.0,920.2 624.5,919.5 627.0,918.8 629.5,918.2 632.0,917.5 634.5,916.9 637.0,916.3 639.5,915.6 642.0,915.0 643.0,914.8 644.5,914.4 647.0,913.8 649.5,913.2 652.0,912.6 654.5,911.9 657.0,911.3 659.5,910.7 662.0,910.1 664.5,909.6 667.0,909.1 669.5,908.6 672.0,908.2 674.5,907.8 677.0,907.5 677.9,907.4 679.5,907.2 682.0,907.0 684.5,906.8 687.0,906.6 689.5,906.4 692.0,906.2 694.5,906.0 697.0,905.8 699.5,905.7 702.0,905.6 704.5,905.5 707.0,905.5 708.0,905.5 709.5,905.6 712.0,906.4 714.5,907.7 717.0,909.3 719.5,911.2 719.6,911.3 722.0,914.8 724.5,920.3 727.0,925.0 728.9,926.4 729.5,926.4 732.0,926.4 734.5,926.4 737.0,926.4 739.5,926.4 742.0,926.4 744.5,926.4 745.1,926.4 747.0,925.7 749.5,923.0 752.0,919.6 754.5,916.4 756.7,914.8 757.0,914.7 759.5,913.9 762.0,913.1 764.5,912.5 767.0,911.9 769.5,911.4 772.0,911.0 774.5,910.6 777.0,910.2 779.5,909.9 782.0,909.5 784.5,909.2 787.0,908.9 789.5,908.5 792.0,908.1 793.8,907.8 794.5,907.7 797.0,907.2 799.5,906.7 802.0,906.2 804.5,905.7 807.0,905.2 809.5,904.8 812.0,904.3 814.5,903.8 817.0,903.4 819.5,903.0 822.0,902.7 824.5,902.4 827.0,902.1 828.6,902.0 829.5,901.9 832.0,901.8 834.5,901.6 837.0,901.4 839.5,901.3 842.0,901.1 844.5,901.0 847.0,900.8 849.5,900.7 852.0,900.5 854.5,900.4 857.0,900.2 859.5,900.1 862.0,900.0 864.5,899.8 867.0,899.7 869.5,899.6 872.0,899.5 874.5,899.4 877.0,899.3 879.5,899.1 882.0,899.0 884.5,898.9 887.0,898.8 889.5,898.7 892.0,898.6 894.5,898.5 897.0,898.4 899.5,898.4 902.0,898.3 904.5,898.2 907.0,898.1 909.5,898.0 912.0,898.0 914.5,897.9 917.0,897.8 919.5,897.7 922.0,897.7 924.5,897.6 927.0,897.5 929.5,897.5 932.0,897.4 934.5,897.4 937.0,897.3 939.5,897.2 942.0,897.2 944.5,897.1 947.0,897.1 949.5,897.0 952.0,897.0 954.5,896.9 957.0,896.9 959.5,896.9 962.0,896.8 964.5,896.8 967.0,896.7 969.5,896.7 970.0,896.7 972.0,896.7 974.5,896.6 977.0,896.6 979.5,896.6 982.0,896.5 984.5,896.5 987.0,896.5 989.5,896.4 992.0,896.4 994.5,896.4 997.0,896.3 999.5,896.3 1002.0,896.3 1004.5,896.2 1007.0,896.2 1009.5,896.2 1012.0,896.1 1014.5,896.1 1017.0,896.1 1019.5,896.0 1022.0,896.0 1024.5,896.0 1027.0,895.9 1029.5,895.9 1032.0,895.9 1034.5,895.9 1037.0,895.8 1039.5,895.8 1042.0,895.8 1044.5,895.8 1047.0,895.7 1049.5,895.7 1052.0,895.7 1054.5,895.7 1057.0,895.6 1059.5,895.6 1062.0,895.6 1064.5,895.6 1067.0,895.6 1069.5,895.5 1072.0,895.5 1074.5,895.5 1077.0,895.5 1079.5,895.5 1082.0,895.4 1084.5,895.4 1087.0,895.4 1089.5,895.4 1092.0,895.4 1094.5,895.4 1097.0,895.4 1099.5,895.4 1102.0,895.3 1104.5,895.3 1107.0,895.3 1109.5,895.3 1112.0,895.3 1114.5,895.3 1117.0,895.3 1119.5,895.3 1122.0,895.3 1124.5,895.3 1127.0,895.3 1127.3,895.3 1129.5,895.3 1132.0,895.3 1134.5,895.3 1137.0,895.3 1139.5,895.3 1142.0,895.3 1144.5,895.3 1147.0,895.3 1149.5,895.3 1152.0,895.4 1154.5,895.4 1157.0,895.4 1159.5,895.4 1162.0,895.4 1164.5,895.4 1167.0,895.4 1169.5,895.5 1172.0,895.5 1174.5,895.5 1177.0,895.5 1179.5,895.5 1182.0,895.5 1184.5,895.6 1187.0,895.6 1189.5,895.6 1192.0,895.6 1194.5,895.7 1197.0,895.7 1199.5,895.7 1202.0,895.8 1204.5,895.8 1207.0,895.8 1209.5,895.8 1212.0,895.9 1214.5,895.9 1217.0,895.9 1219.5,896.0 1222.0,896.0 1224.5,896.0 1227.0,896.1 1229.5,896.1 1232.0,896.1 1234.5,896.2 1237.0,896.2 1239.5,896.3 1242.0,896.3 1244.5,896.3 1247.0,896.4 1249.5,896.4 1252.0,896.5 1254.5,896.5 1257.0,896.5 1259.5,896.6 1262.0,896.6 1264.5,896.7 1267.0,896.7 1269.5,896.8 1272.0,896.8 1274.5,896.9 1277.0,896.9 1279.5,897.0 1282.0,897.0 1284.5,897.0 1287.0,897.1 1289.5,897.1 1292.0,897.2 1294.5,897.2 1297.0,897.3 1299.5,897.3 1302.0,897.4 1304.5,897.4 1307.0,897.5 1309.5,897.6 1312.0,897.6 1314.5,897.7 1317.0,897.7 1319.5,897.8 1322.0,897.8 1324.5,897.9 1327.0,897.9 1329.5,898.0 1332.0,898.0 1334.5,898.1 1337.0,898.1 1339.5,898.2 1340.0,898.2 1342.0,898.2 1344.5,898.3 1347.0,898.3 1349.5,898.4 1352.0,898.4 1354.5,898.5 1357.0,898.6 1359.5,898.8 1361.1,898.9 1362.0,899.3 1364.5,902.7 1367.0,908.4 1369.5,914.6 1370.0,915.8 1372.0,922.0 1374.5,930.8 1377.0,935.2 1379.5,935.2 1382.0,935.2 1384.5,935.2 1387.0,935.2 1389.3,935.2 1389.5,935.2 1392.0,933.0 1394.5,928.1 1397.0,922.0 1399.5,916.0 1402.0,911.7 1403.4,910.5 1404.5,910.0 1407.0,909.2 1409.5,908.5 1412.0,908.0 1414.5,907.6 1417.0,907.1 1417.5,907.0 1419.5,906.6 1422.0,906.0 1424.5,905.5 1427.0,904.9 1429.5,904.5 1432.0,904.0 1434.5,903.7 1437.0,903.5 1438.7,903.5 1439.5,903.5 1442.0,903.5 1444.5,903.5 1447.0,903.5 1449.5,903.5 1452.0,903.5 1454.5,903.5 1457.0,903.5 1459.5,903.5 1462.0,903.5 1464.5,903.5 1467.0,903.5 1469.5,903.5 1472.0,903.5 1474.5,903.5 1477.0,903.5 1479.5,903.5 1482.0,903.5 1484.5,903.5 1487.0,903.5 1489.5,903.5 1492.0,903.5 1494.5,903.5 1495.1,903.5 1497.0,903.8 1499.5,904.7 1502.0,906.3 1504.5,908.3 1507.0,910.4 1509.2,912.3 1509.5,912.6 1512.0,915.2 1514.5,918.4 1517.0,921.9 1519.5,925.4 1522.0,928.5 1523.3,929.9 1524.5,931.1 1527.0,933.7 1529.5,936.3 1532.0,938.7 1534.5,940.6 1537.0,941.9 1539.2,942.3 1539.5,942.3 1542.0,941.9 1544.5,941.1 1547.0,939.9 1549.5,938.4 1551.5,937.0 1552.0,936.5 1554.5,932.1 1557.0,927.5 1558.5,926.4 1559.5,926.8 1562.0,930.9 1564.5,936.9 1567.0,942.2 1569.1,944.0 1569.5,944.0 1572.0,941.9 1574.5,938.2 1577.0,934.5 1579.5,932.7 1579.7,932.7 1582.0,933.0 1584.5,933.9 1587.0,935.0 1589.5,936.0 1592.0,936.8 1593.8,937.0 1594.5,937.0 1597.0,936.7 1599.5,936.1 1602.0,935.4 1604.5,934.6 1607.0,934.0 1609.5,933.5 1611.4,933.4 1612.0,933.5 1614.5,935.8 1617.0,940.2 1619.5,945.1 1622.0,949.3 1624.5,952.9 1627.0,956.8 1629.5,960.6 1632.0,963.6 1634.5,965.5 1636.1,965.9 1637.0,965.8 1639.5,964.6 1642.0,962.2 1644.5,959.3 1646.7,956.4 1647.0,956.0 1649.5,950.8 1652.0,943.7 1654.5,936.8 1657.0,931.9 1657.2,931.7 1659.5,929.2 1662.0,927.0 1664.5,925.0 1667.0,923.4 1669.5,922.0 1671.3,921.1 1672.0,920.7 1674.5,919.4 1677.0,918.2 1679.5,917.1 1682.0,916.3 1684.5,915.8 1685.4,915.8 1687.0,919.4 1689.5,933.1 1692.0,944.9 1692.5,945.8 1694.5,947.8 1697.0,949.5 1699.5,950.6 1702.0,951.6 1704.5,953.0 1706.6,954.6 1707.0,955.0 1709.5,959.2 1712.0,965.2 1714.5,971.6 1717.0,977.2 1719.5,980.5 1720.7,981.0 1722.0,980.7 1724.5,979.0 1727.0,976.2 1729.5,972.7 1732.0,969.2 1734.5,966.0 1737.0,963.9 1738.3,963.4 1739.5,963.1 1742.0,962.8 1744.5,962.5 1747.0,962.3 1749.5,962.1 1752.0,961.9 1754.5,961.6 1757.0,961.1 1757.7,960.9 1759.5,959.3 1762.0,954.2 1764.5,947.3 1767.0,940.6 1769.5,935.8 1770.0,935.2 1772.0,933.3 1774.5,931.1 1777.0,929.1 1779.5,927.6 1782.0,926.7 1784.1,926.4 1784.5,926.4 1787.0,926.9 1789.5,927.8 1792.0,928.9 1794.5,929.9 1797.0,930.5 1798.2,930.6 1799.5,930.6 1802.0,930.3 1804.5,929.9 1807.0,929.3 1809.5,928.6 1812.0,927.8 1814.5,926.9 1817.0,926.0 1819.5,925.1 1822.0,924.3 1824.5,923.6 1827.0,922.9 1829.5,922.5 1832.0,922.2 1833.5,922.2 1834.5,922.5 1837.0,925.9 1839.5,931.6 1842.0,938.1 1844.5,943.8 1847.0,947.2 1847.6,947.5 1849.5,948.0 1852.0,948.6 1854.5,949.0 1857.0,949.3 1858.2,949.3 1859.5,949.1 1862.0,947.9 1864.5,945.9 1867.0,943.3 1869.5,940.5 1872.0,937.8 1874.5,935.5 1877.0,933.9 1879.3,933.4 1879.5,933.4 1882.0,933.4 1884.5,933.4 1887.0,933.4 1889.5,933.4 1892.0,933.4 1893.4,933.4 1894.5,933.4 1897.0,933.6 1899.5,933.9 1902.0,934.4 1904.5,935.0 1907.0,935.7 1909.5,936.6 1912.0,937.5 1914.5,938.6 1917.0,939.7 1919.5,940.9 1922.0,942.1 1924.5,943.4 1927.0,944.7 1929.5,946.0 1932.0,947.4 1934.5,948.7 1937.0,950.0 1939.5,951.3 1942.0,952.6 1944.5,953.8 1946.3,954.6 1947.0,954.9 1949.5,956.2 1952.0,957.6 1954.5,959.2 1957.0,960.8 1959.5,962.5 1962.0,964.1 1964.5,965.8 1967.0,967.3 1969.5,968.7 1972.0,969.9 1974.5,970.9 1977.0,971.6 1979.5,972.1 1981.5,972.2 1982.0,972.2 1984.5,971.7 1987.0,970.8 1989.5,969.5 1992.0,968.2 1994.5,967.0 1997.0,966.2 1999.2,965.9 1999.5,965.9 2002.0,965.9 2004.5,966.1 2007.0,966.3 2009.5,966.5 2012.0,966.8 2014.5,967.1 2017.0,967.4 2019.5,967.8 2022.0,968.2 2024.5,968.6 2027.0,968.9 2029.5,969.3 2032.0,969.6 2034.5,969.9 2037.0,970.1 2039.5,970.3 2042.0,970.4 2044.5,970.5 2045.0,970.5 2047.0,970.3 2049.5,969.8 2052.0,969.0 2054.5,967.9 2057.0,966.9 2059.5,965.9 2062.0,965.1 2064.5,964.6 2066.1,964.5 2067.0,964.5 2069.5,965.1 2072.0,966.1 2074.5,967.3 2077.0,968.6 2079.5,969.6 2082.0,970.3 2083.7,970.5 2084.5,970.5 2087.0,969.9 2089.5,968.6 2092.0,967.0 2094.3,965.2" fill="none" stroke="#ff00ff" stroke-width="6" stroke-linejoin="round" stroke-linecap="round"/>
<path d="M164.5,1024.6 167.0,1024.6 169.5,1024.6 172.0,1024.6 174.5,1024.6 177.0,1024.6 179.5,1024.6 182.0,1024.6 184.5,1024.6 187.0,1024.6 189.5,1024.6 192.0,1024.6 194.5,1024.6 197.0,1024.6 199.5,1024.6 202.0,1024.7 204.5,1024.7 207.0,1024.7 209.5,1024.7 212.0,1024.7 214.5,1024.7 217.0,1024.7 219.5,1024.7 222.0,1024.8 224.5,1024.8 227.0,1024.8 229.5,1024.8 232.0,1024.8 234.5,1024.9 237.0,1024.9 239.5,1024.9 242.0,1025.0 244.5,1025.0 247.0,1025.0 249.5,1025.1 252.0,1025.1 254.5,1025.1 257.0,1025.2 259.5,1025.2 262.0,1025.3 264.5,1025.3 267.0,1025.4 269.5,1025.4 272.0,1025.5 274.5,1025.5 277.0,1025.6 279.5,1025.7 282.0,1025.7 284.5,1025.8 287.0,1025.9 289.5,1025.9 292.0,1026.0 294.5,1026.1 297.0,1026.2 299.5,1026.2 302.0,1026.3 304.0,1026.4 304.5,1026.5 307.0,1028.3 308.5,1029.0 309.5,1028.9 312.0,1027.9 314.5,1026.6 317.0,1025.6 317.5,1025.5 319.5,1025.2 322.0,1024.9 324.5,1024.6 327.0,1024.3 329.5,1024.1 332.0,1023.9 334.5,1023.7 337.0,1023.5 339.5,1023.4 342.0,1023.3 344.5,1023.2 347.0,1023.2 349.0,1023.2 349.5,1023.2 352.0,1023.3 354.5,1023.4 357.0,1023.6 359.5,1023.8 362.0,1024.1 364.5,1024.4 367.0,1024.8 369.5,1025.1 372.0,1025.6 374.5,1026.0 377.0,1026.4 379.5,1026.8 382.0,1027.2 384.5,1027.6 385.0,1027.7 387.0,1028.0 389.5,1028.4 392.0,1028.9 394.5,1029.4 397.0,1029.9 399.5,1030.4 402.0,1030.9 404.5,1031.5 407.0,1032.0 409.5,1032.6 412.0,1033.1 414.5,1033.7 417.0,1034.2 419.5,1034.7 422.0,1035.2 424.5,1035.7 427.0,1036.2 429.5,1036.6 430.0,1036.7 432.0,1037.0 434.5,1037.4 437.0,1037.8 439.5,1038.3 442.0,1038.7 444.5,1039.1 447.0,1039.5 449.5,1039.9 452.0,1040.2 454.5,1040.6 457.0,1041.0 459.5,1041.3 462.0,1041.7 464.5,1042.0 467.0,1042.3 469.5,1042.6 472.0,1042.8 474.5,1043.1 477.0,1043.3 479.5,1043.5 480.0,1043.5 482.0,1043.6 484.5,1043.8 487.0,1044.0 489.5,1044.2 492.0,1044.3 494.5,1044.5 497.0,1044.6 499.5,1044.7 502.0,1044.8 504.5,1044.9 507.0,1045.0 509.5,1045.0 511.0,1045.0 512.0,1045.0 514.5,1045.0 517.0,1045.0 519.5,1045.0 522.0,1045.0 524.5,1045.0 527.0,1045.0 529.5,1045.0 532.0,1044.9 534.5,1044.9 537.0,1044.9 539.5,1044.9 542.0,1044.9 544.5,1044.9 547.0,1044.8 549.5,1044.8 552.0,1044.8 554.5,1044.8 557.0,1044.7 559.5,1044.7 562.0,1044.7 564.5,1044.6 567.0,1044.6 569.5,1044.6 572.0,1044.5 574.5,1044.5 577.0,1044.4 579.5,1044.4 582.0,1044.3 584.5,1044.3 587.0,1044.3 589.5,1044.2 592.0,1044.1 594.5,1044.1 597.0,1044.0 599.5,1044.0 602.0,1043.9 604.5,1043.9 607.0,1043.8 609.5,1043.7 612.0,1043.7 614.5,1043.6 617.0,1043.6 619.0,1043.5 619.5,1043.5 622.0,1043.4 624.5,1043.2 627.0,1042.9 629.5,1042.7 632.0,1042.3 634.5,1042.0 637.0,1041.6 639.5,1041.1 642.0,1040.7 644.5,1040.2 647.0,1039.8 649.5,1039.3 652.0,1038.9 654.5,1038.5 657.0,1038.1 659.5,1037.7 662.0,1037.4 664.5,1037.1 667.0,1036.8 669.5,1036.7 672.0,1036.5 674.5,1036.5 674.8,1036.5 677.0,1036.5 679.5,1036.5 682.0,1036.5 684.5,1036.5 687.0,1036.5 689.5,1036.5 692.0,1036.5 694.5,1036.5 697.0,1036.5 699.5,1036.5 702.0,1036.5 704.5,1036.5 707.0,1036.5 709.5,1036.5 712.0,1036.5 714.5,1036.5 717.0,1036.5 719.5,1036.5 722.0,1036.5 723.5,1036.5 724.5,1036.5 727.0,1036.7 729.5,1037.1 732.0,1037.6 734.5,1038.2 737.0,1038.9 739.5,1039.5 742.0,1040.2 744.4,1040.7 744.5,1040.7 747.0,1041.3 749.5,1041.9 752.0,1042.6 754.5,1043.2 757.0,1043.8 759.5,1044.2 762.0,1044.4 763.0,1044.4 764.5,1044.4 767.0,1044.1 769.5,1043.7 772.0,1043.1 774.5,1042.5 777.0,1041.9 779.5,1041.4 781.0,1041.2 782.0,1041.1 784.5,1040.7 787.0,1040.4 789.5,1040.0 792.0,1039.7 794.5,1039.4 797.0,1039.1 799.5,1038.7 802.0,1038.4 804.5,1038.1 807.0,1037.8 809.5,1037.6 812.0,1037.3 814.5,1037.0 817.0,1036.8 819.5,1036.5 822.0,1036.3 824.5,1036.1 827.0,1035.9 829.5,1035.7 832.0,1035.6 834.5,1035.4 835.0,1035.4 837.0,1035.3 839.5,1035.2 842.0,1035.0 844.5,1034.9 847.0,1034.8 849.5,1034.7 852.0,1034.6 854.5,1034.5 857.0,1034.4 859.5,1034.3 862.0,1034.2 864.5,1034.1 867.0,1034.0 869.5,1033.9 872.0,1033.8 874.5,1033.7 877.0,1033.6 879.5,1033.6 882.0,1033.5 884.5,1033.4 887.0,1033.3 889.5,1033.3 892.0,1033.2 894.5,1033.1 897.0,1033.1 899.5,1033.0 902.0,1032.9 904.5,1032.9 907.0,1032.8 909.5,1032.7 912.0,1032.7 914.5,1032.6 917.0,1032.5 919.5,1032.5 922.0,1032.4 924.5,1032.4 927.0,1032.3 929.5,1032.2 932.0,1032.2 934.5,1032.1 937.0,1032.0 939.5,1031.9 942.0,1031.9 944.5,1031.8 947.0,1031.7 949.5,1031.6 952.0,1031.6 954.5,1031.5 957.0,1031.4 959.5,1031.3 962.0,1031.2 964.5,1031.1 967.0,1031.0 969.5,1030.9 970.0,1030.9 972.0,1030.8 974.5,1030.7 977.0,1030.6 979.5,1030.4 982.0,1030.3 984.5,1030.1 987.0,1030.0 989.5,1029.8 992.0,1029.6 994.5,1029.4 997.0,1029.3 999.5,1029.1 1002.0,1028.9 1004.5,1028.8 1007.0,1028.6 1009.5,1028.5 1012.0,1028.3 1014.5,1028.2 1017.0,1028.1 1019.5,1028.0 1022.0,1027.9 1024.5,1027.8 1027.0,1027.8 1029.5,1027.7 1032.0,1027.7 1033.0,1027.7 1034.5,1028.0 1037.0,1029.6 1039.5,1031.4 1042.0,1032.2 1044.5,1032.2 1047.0,1032.2 1049.5,1032.2 1052.0,1032.2 1054.5,1032.1 1057.0,1032.1 1059.5,1032.1 1062.0,1032.0 1064.5,1032.0 1067.0,1031.9 1069.5,1031.9 1072.0,1031.8 1074.5,1031.7 1077.0,1031.7 1079.5,1031.6 1082.0,1031.5 1084.5,1031.4 1087.0,1031.3 1089.5,1031.2 1092.0,1031.1 1094.5,1031.0 1097.0,1030.9 1099.5,1030.7 1102.0,1030.6 1104.5,1030.5 1107.0,1030.3 1109.5,1030.2 1112.0,1030.0 1114.5,1029.9 1117.0,1029.7 1119.5,1029.6 1122.0,1029.4 1124.5,1029.2 1127.0,1029.0 1127.3,1029.0 1129.5,1028.7 1132.0,1028.1 1134.5,1027.4 1137.0,1026.8 1139.5,1026.2 1142.0,1025.9 1142.7,1025.9 1144.5,1025.9 1147.0,1026.2 1149.5,1026.5 1152.0,1026.9 1154.5,1027.3 1157.0,1027.8 1159.5,1028.1 1162.0,1028.4 1164.5,1028.6 1165.5,1028.6 1167.0,1028.6 1169.5,1028.6 1172.0,1028.5 1174.5,1028.4 1177.0,1028.2 1179.5,1028.1 1182.0,1027.9 1184.5,1027.8 1187.0,1027.6 1189.5,1027.4 1192.0,1027.2 1194.5,1027.1 1197.0,1026.9 1199.5,1026.8 1202.0,1026.6 1204.5,1026.5 1207.0,1026.4 1209.5,1026.4 1211.0,1026.4 1212.0,1026.4 1214.5,1026.4 1217.0,1026.4 1219.5,1026.4 1222.0,1026.4 1224.5,1026.4 1227.0,1026.4 1229.5,1026.4 1232.0,1026.4 1234.5,1026.4 1237.0,1026.4 1239.5,1026.4 1242.0,1026.4 1244.5,1026.4 1247.0,1026.4 1249.5,1026.4 1252.0,1026.4 1254.5,1026.4 1257.0,1026.5 1259.5,1026.5 1262.0,1026.5 1264.5,1026.5 1267.0,1026.5 1269.5,1026.5 1272.0,1026.5 1274.5,1026.5 1277.0,1026.5 1279.5,1026.5 1282.0,1026.5 1284.5,1026.5 1287.0,1026.6 1289.5,1026.6 1292.0,1026.6 1294.5,1026.6 1297.0,1026.6 1299.5,1026.6 1302.0,1026.6 1304.5,1026.6 1307.0,1026.6 1309.5,1026.7 1312.0,1026.7 1314.5,1026.7 1317.0,1026.7 1319.5,1026.7 1322.0,1026.7 1324.5,1026.7 1327.0,1026.7 1329.5,1026.8 1332.0,1026.8 1334.5,1026.8 1336.0,1026.8 1337.0,1026.8 1339.5,1026.8 1342.0,1026.8 1344.5,1026.9 1347.0,1026.9 1349.5,1026.9 1352.0,1026.9 1354.5,1027.0 1357.0,1027.0 1359.5,1027.1 1362.0,1027.1 1364.5,1027.1 1367.0,1027.2 1369.5,1027.3 1372.0,1027.3 1374.5,1027.4 1377.0,1027.5 1379.5,1027.6 1382.0,1027.7 1384.5,1027.8 1387.0,1027.9 1389.5,1028.0 1392.0,1028.2 1392.7,1028.2 1394.5,1028.4 1397.0,1029.0 1399.5,1030.0 1402.0,1031.1 1404.5,1032.3 1406.4,1033.2 1407.0,1033.5 1409.5,1035.4 1412.0,1037.4 1414.5,1038.8 1415.5,1038.9 1417.0,1038.9 1419.5,1038.9 1422.0,1038.9 1424.5,1038.9 1427.0,1038.9 1429.5,1038.9 1432.0,1038.9 1434.5,1038.9 1437.0,1038.9 1439.5,1038.9 1442.0,1038.9 1442.7,1038.9 1444.5,1039.1 1447.0,1040.0 1449.5,1041.1 1452.0,1042.3 1454.5,1043.2 1456.4,1043.4 1457.0,1043.4 1459.5,1042.9 1462.0,1042.1 1464.5,1041.0 1467.0,1039.9 1469.5,1039.0 1470.0,1038.9 1472.0,1038.4 1474.5,1037.6 1477.0,1036.9 1479.5,1036.2 1482.0,1035.6 1484.5,1034.9 1487.0,1034.4 1489.5,1034.0 1492.0,1033.7 1494.5,1033.6 1495.0,1033.6 1497.0,1033.6 1499.5,1033.7 1502.0,1033.7 1504.5,1033.9 1507.0,1034.0 1509.5,1034.2 1511.0,1034.3 1512.0,1034.4 1514.5,1035.3 1517.0,1036.5 1519.5,1037.9 1522.0,1039.2 1524.5,1040.0 1527.0,1040.5 1529.5,1040.9 1532.0,1041.3 1534.5,1041.6 1537.0,1041.9 1539.5,1042.1 1542.0,1042.4 1544.5,1042.6 1547.0,1042.9 1549.5,1043.1 1551.8,1043.4 1552.0,1043.4 1554.5,1043.7 1557.0,1043.9 1559.5,1044.2 1561.0,1044.5 1562.0,1044.8 1564.5,1046.4 1567.0,1048.3 1569.5,1049.5 1570.0,1049.5 1572.0,1048.7 1574.5,1046.7 1576.8,1045.7 1577.0,1045.7 1579.5,1045.7 1582.0,1045.7 1584.5,1045.7 1587.0,1045.7 1589.5,1045.7 1592.0,1045.7 1594.5,1045.7 1597.0,1045.7 1599.5,1045.7 1600.0,1045.7 1602.0,1045.5 1604.5,1044.7 1607.0,1043.5 1609.5,1042.1 1612.0,1040.7 1614.5,1039.6 1617.0,1038.8 1618.6,1038.7 1619.5,1038.7 1622.0,1039.0 1624.5,1039.6 1627.0,1040.2 1629.5,1040.7 1632.0,1041.0 1632.5,1041.0 1634.5,1040.8 1637.0,1040.1 1639.5,1039.0 1642.0,1037.8 1644.5,1036.5 1647.0,1035.2 1649.5,1034.3 1652.0,1033.7 1653.3,1033.6 1654.5,1033.6 1657.0,1033.6 1659.5,1033.6 1662.0,1033.7 1664.5,1033.7 1667.0,1033.8 1669.5,1033.9 1672.0,1034.0 1674.2,1034.1 1674.5,1034.1 1677.0,1036.4 1679.5,1040.5 1681.2,1043.3 1682.0,1044.7 1684.5,1050.0 1687.0,1054.3 1688.1,1054.9 1689.5,1054.6 1692.0,1053.2 1694.5,1051.4 1697.0,1050.3 1697.4,1050.3 1699.5,1050.6 1702.0,1051.4 1704.4,1052.6 1704.5,1052.7 1707.0,1054.7 1709.5,1057.9 1712.0,1061.7 1713.6,1064.2 1714.5,1065.7 1717.0,1070.8 1719.5,1076.4 1722.0,1081.4 1722.9,1082.8 1724.5,1085.2 1727.0,1088.9 1729.5,1092.2 1732.0,1094.6 1734.5,1095.5 1737.0,1095.2 1739.5,1094.6 1742.0,1093.9 1744.5,1093.3 1746.1,1093.2 1747.0,1093.3 1749.5,1094.9 1752.0,1097.4 1754.5,1099.8 1757.0,1101.2 1757.7,1101.3 1759.5,1100.9 1762.0,1099.4 1764.5,1097.8 1767.0,1096.7 1769.5,1096.4 1772.0,1096.2 1774.5,1096.0 1777.0,1095.8 1778.6,1095.5 1779.5,1095.2 1782.0,1092.9 1784.5,1089.5 1787.0,1085.9 1789.5,1083.3 1790.2,1082.8 1792.0,1082.0 1794.5,1081.1 1797.0,1080.3 1799.5,1079.7 1802.0,1078.9 1804.1,1078.1 1804.5,1077.9 1807.0,1076.3 1809.5,1074.3 1812.0,1072.5 1814.5,1071.4 1815.7,1071.2 1817.0,1071.4 1819.5,1072.7 1822.0,1074.5 1824.5,1076.1 1827.0,1077.0 1827.3,1077.0 1829.5,1076.6 1832.0,1075.3 1834.5,1073.5 1837.0,1071.3 1839.5,1069.2 1842.0,1067.4 1843.5,1066.5 1844.5,1066.0 1847.0,1064.7 1849.5,1063.5 1852.0,1062.5 1854.5,1062.0 1855.1,1061.9 1857.0,1061.8 1859.5,1061.6 1862.0,1061.4 1864.5,1061.3 1867.0,1061.2 1869.5,1061.1 1872.0,1061.0 1874.5,1060.9 1877.0,1060.9 1879.5,1060.8 1882.0,1060.8 1884.5,1060.7 1887.0,1060.7 1889.5,1060.7 1889.9,1060.7 1892.0,1060.7 1894.5,1060.9 1897.0,1061.2 1899.5,1061.6 1902.0,1062.0 1904.5,1062.6 1907.0,1063.1 1909.5,1063.7 1912.0,1064.3 1914.5,1064.9 1917.0,1065.5 1919.5,1066.0 1920.0,1066.1 1922.0,1066.5 1924.5,1066.9 1927.0,1067.3 1929.5,1067.7 1932.0,1068.1 1934.5,1068.6 1937.0,1069.2 1939.5,1069.9 1942.0,1070.7 1943.2,1071.2 1944.5,1072.1 1947.0,1075.2 1949.5,1078.8 1952.0,1081.4 1952.5,1081.6 1954.5,1082.2 1957.0,1082.8 1959.5,1083.3 1962.0,1083.7 1964.5,1084.0 1967.0,1084.3 1969.5,1084.8 1971.0,1085.1 1972.0,1085.3 1974.5,1086.1 1977.0,1087.0 1979.5,1087.9 1982.0,1089.0 1984.5,1090.1 1987.0,1091.1 1989.5,1092.2 1992.0,1093.1 1994.5,1094.0 1997.0,1094.7 1999.5,1095.2 2002.0,1095.5 2003.5,1095.5 2004.5,1095.5 2007.0,1095.5 2009.5,1095.5 2012.0,1095.5 2014.5,1095.5 2017.0,1095.5 2019.5,1095.5 2022.0,1095.5 2024.5,1095.5 2027.0,1095.5 2029.0,1095.5 2029.5,1095.5 2032.0,1095.5 2034.5,1095.6 2037.0,1095.7 2039.5,1095.8 2042.0,1096.0 2044.5,1096.2 2047.0,1096.3 2049.5,1096.5 2052.0,1096.7 2052.2,1096.7 2054.5,1096.9 2057.0,1097.1 2059.5,1097.3 2062.0,1097.5 2064.5,1097.8 2067.0,1098.1 2069.5,1098.3 2072.0,1098.6 2074.5,1098.9 2075.4,1099.0 2077.0,1099.2 2079.5,1099.5 2082.0,1099.8 2084.5,1100.1 2087.0,1100.4 2089.5,1100.7 2092.0,1101.0 2094.0,1101.3" fill="none" stroke="#0000ff" stroke-width="6" stroke-linejoin="round" stroke-linecap="round"/>
<polyline points="164.5,1156.9 250.0,1156.9 304.0,1156.0 310.7,1161.4 322.0,1156.9 349.0,1155.0 362.5,1159.5 385.0,1155.0 475.0,1155.0 605.4,1151.5 632.4,1158.2 650.4,1165.0 664.0,1171.7 673.0,1185.2 682.0,1173.9 700.0,1165.0 736.0,1161.4 758.4,1162.7 781.0,1174.9 799.0,1164.0 835.0,1160.5 898.0,1161.4 925.0,1156.0 961.0,1158.2 992.3,1164.0 1033.0,1167.2 1060.0,1171.7 1127.3,1167.2 1203.5,1166.5 1259.1,1166.5 1400.0,1165.8 1409.4,1166.5 1415.0,1171.7 1418.4,1180.0 1425.0,1196.7 1431.7,1218.4 1436.7,1260.2 1440.9,1296.9 1445.1,1273.5 1448.4,1246.8 1451.8,1268.5 1455.9,1296.9 1460.1,1268.5 1465.1,1233.5 1471.8,1221.8 1476.8,1230.1 1481.0,1242.7 1485.2,1230.1 1491.8,1211.8 1496.8,1215.1 1500.2,1243.5 1503.5,1275.2 1508.5,1253.5 1515.2,1250.2 1518.5,1256.8 1525.2,1226.8 1531.9,1231.8 1536.9,1226.8 1541.9,1193.4 1545.3,1189.2 1551.9,1200.1 1558.6,1223.5 1565.3,1248.5 1570.3,1281.9 1575.3,1276.9 1583.7,1226.8 1587.0,1221.8 1592.0,1238.5 1597.0,1243.5 1600.4,1251.8 1603.7,1245.2 1608.7,1253.5 1612.1,1260.2 1617.1,1308.6 1622.1,1268.5 1628.8,1266.9 1633.8,1270.2 1638.8,1235.1 1645.4,1218.4 1653.8,1201.7 1662.1,1189.2 1668.8,1200.1 1675.5,1226.8 1678.8,1248.5 1683.9,1203.4 1687.2,1226.8 1692.2,1261.9 1697.2,1240.1 1705.6,1230.1 1710.6,1215.1 1720.6,1213.4 1727.3,1203.4 1732.3,1193.4 1737.3,1175.0 1742.3,1180.0 1747.3,1210.1 1750.7,1256.8 1756.5,1250.9 1763.0,1228.2 1769.5,1213.6 1777.6,1212.0 1782.5,1216.8 1787.3,1195.7 1793.8,1190.8 1798.7,1208.7 1805.2,1257.4 1811.7,1228.2 1818.2,1192.5 1826.3,1189.2 1829.5,1202.2 1834.4,1179.5 1839.3,1195.7 1841.7,1252.5 1847.4,1200.6 1852.3,1208.7 1855.5,1211.9 1860.4,1270.4 1865.3,1234.7 1870.1,1192.5 1876.6,1184.4 1881.5,1195.7 1886.4,1241.2 1891.2,1192.5 1896.1,1182.7 1902.6,1173.0 1909.1,1173.0 1912.3,1192.5 1915.6,1237.9 1919.6,1281.8 1923.7,1241.2 1927.0,1250.9 1933.4,1192.5 1939.9,1187.6 1948.0,1176.2 1956.2,1192.5 1965.9,1171.4 1970.8,1192.5 1973.2,1275.3 1977.3,1192.5 1982.1,1179.5 1993.5,1181.1 1998.4,1200.6 2003.2,1280.1 2009.7,1254.2 2014.6,1278.5 2019.5,1225.0 2029.2,1186.0 2034.1,1192.5 2040.6,1257.4 2048.7,1225.0 2058.4,1189.2 2064.9,1192.5 2068.2,1236.3 2074.7,1216.8 2082.8,1192.5 2090.9,1181.1" fill="none" stroke="#ff0000" stroke-width="7" stroke-linejoin="round" stroke-linecap="round"/>
<polyline points="164.5,1289.0 272.5,1287.7 295.0,1286.4 308.5,1293.6 317.5,1289.0 340.0,1285.5 358.0,1290.0 385.0,1292.2 394.0,1296.7 405.2,1310.2 425.4,1296.7 475.0,1290.0 565.0,1284.6 632.4,1284.6 646.0,1292.2 673.0,1296.7 682.0,1294.5 700.0,1299.0 713.4,1298.0 722.4,1307.0 736.0,1305.7 747.0,1314.7 758.4,1304.4 772.0,1296.7 790.0,1304.4 808.0,1308.0 819.0,1317.9 830.3,1308.9 848.4,1313.4 859.6,1323.7 868.6,1317.9 884.3,1335.9 897.8,1330.5 925.0,1326.0 951.8,1304.4 958.6,1308.0 967.6,1332.7 983.3,1328.2 1005.8,1314.7 1037.3,1303.5 1082.3,1295.4 1120.0,1292.8 1147.8,1287.2 1168.7,1290.0 1217.4,1281.7 1252.2,1282.4 1266.1,1284.4 1300.9,1283.0 1307.8,1277.5 1349.6,1273.3 1359.3,1276.1 1370.0,1281.7 1376.7,1291.7 1383.4,1320.1 1388.4,1345.1 1393.4,1360.2 1398.4,1350.1 1406.7,1325.1 1415.1,1308.4 1420.1,1303.4 1426.8,1313.4 1435.1,1328.4 1440.1,1361.8 1444.3,1393.6 1449.3,1378.5 1453.5,1345.1 1458.5,1320.1 1462.7,1308.4 1470.2,1319.3 1476.9,1310.1 1483.5,1330.1 1490.2,1330.1 1496.9,1353.5 1500.2,1365.2 1505.2,1346.8 1509.4,1320.1 1515.3,1336.8 1518.6,1361.8 1523.6,1386.9 1528.6,1420.3 1533.6,1411.9 1537.0,1390.2 1545.3,1363.5 1550.3,1348.5 1558.7,1343.5 1566.2,1366.0 1572.0,1348.5 1576.2,1338.5 1582.1,1363.5 1588.7,1347.6 1596.2,1361.8 1603.8,1350.1 1610.4,1336.8 1615.4,1326.8 1622.1,1346.8 1625.5,1333.4 1631.3,1319.3 1635.5,1345.1 1639.7,1371.9 1645.5,1346.8 1652.2,1328.4 1658.9,1316.8 1663.9,1325.1 1668.9,1341.8 1675.6,1335.1 1680.6,1340.1 1688.1,1315.1 1693.9,1333.4 1699.8,1358.5 1705.6,1336.8 1715.6,1313.4 1720.0,1314.1 1727.0,1321.1 1733.2,1349.3 1741.1,1320.2 1747.3,1352.8 1755.2,1326.4 1760.5,1333.4 1764.9,1371.3 1771.1,1358.1 1778.2,1338.7 1787.0,1324.6 1795.8,1317.6 1802.0,1352.8 1808.1,1315.8 1815.2,1322.9 1822.2,1314.1 1828.4,1388.1 1834.6,1349.3 1843.4,1312.3 1849.5,1307.9 1853.9,1338.7 1861.0,1322.9 1868.0,1302.6 1874.2,1377.5 1880.4,1317.6 1885.7,1322.9 1891.0,1305.2 1895.4,1333.4 1901.5,1319.3 1910.3,1300.0 1915.6,1338.7 1922.7,1317.6 1929.7,1303.5 1935.9,1317.6 1948.2,1298.2 1959.7,1301.7 1967.6,1330.8 1973.8,1310.5 1982.6,1309.7 1989.6,1337.0 1996.7,1324.6 2003.8,1329.9 2009.0,1358.1 2016.1,1363.4 2021.4,1403.9 2028.4,1358.1 2035.5,1345.8 2042.5,1347.5 2049.6,1361.6 2054.9,1331.7 2060.2,1331.7 2065.4,1359.9 2070.7,1338.7 2077.8,1324.6 2086.6,1338.7 2091.0,1335.0" fill="none" stroke="#000000" stroke-width="7" stroke-linejoin="round" stroke-linecap="round"/>
</g>
<g id="dashes">
<line x1="521.3" y1="171.8" x2="523" y2="1071.5" stroke="#000" stroke-width="7.5" stroke-dasharray="32.5 29.38"/>
<line x1="731.7" y1="156" x2="733" y2="993" stroke="#000" stroke-width="7.5" stroke-dasharray="32 29.88"/>
<line x1="1630" y1="173" x2="1635.6" y2="1010.5" stroke="#000" stroke-width="7.5" stroke-dasharray="31.5 30.34"/>
</g>
<g id="frame">
<rect x="163" y="59" width="1928" height="1430" fill="none" stroke="#000" stroke-width="8"/>
<line x1="163.0" y1="1489" x2="163.0" y2="1522" stroke="#000" stroke-width="8.5"/>
<line x1="430.9" y1="1489" x2="430.9" y2="1522" stroke="#000" stroke-width="8.5"/>
<line x1="698.8" y1="1489" x2="698.8" y2="1522" stroke="#000" stroke-width="8.5"/>
<line x1="966.7" y1="1489" x2="966.7" y2="1522" stroke="#000" stroke-width="8.5"/>
<line x1="1234.6" y1="1489" x2="1234.6" y2="1522" stroke="#000" stroke-width="8.5"/>
<line x1="1502.5" y1="1489" x2="1502.5" y2="1522" stroke="#000" stroke-width="8.5"/>
<line x1="1770.4" y1="1489" x2="1770.4" y2="1522" stroke="#000" stroke-width="8.5"/>
<line x1="2038.3" y1="1489" x2="2038.3" y2="1522" stroke="#000" stroke-width="8.5"/>
<line x1="297.0" y1="1489" x2="297.0" y2="1508" stroke="#000" stroke-width="8.5"/>
<line x1="564.9" y1="1489" x2="564.9" y2="1508" stroke="#000" stroke-width="8.5"/>
<line x1="832.8" y1="1489" x2="832.8" y2="1508" stroke="#000" stroke-width="8.5"/>
<line x1="1100.7" y1="1489" x2="1100.7" y2="1508" stroke="#000" stroke-width="8.5"/>
<line x1="1368.6" y1="1489" x2="1368.6" y2="1508" stroke="#000" stroke-width="8.5"/>
<line x1="1636.5" y1="1489" x2="1636.5" y2="1508" stroke="#000" stroke-width="8.5"/>
<line x1="1904.4" y1="1489" x2="1904.4" y2="1508" stroke="#000" stroke-width="8.5"/>
</g>
<g id="arrows">
<line x1="1386.5" y1="348.8" x2="1409.4" y2="330.8" stroke="#000" stroke-width="4"/>
<polygon points="1429.1,315.3 1414.4,337.0 1404.5,324.5" fill="#000"/>
<line x1="1361.7" y1="1089.3" x2="1387.7" y2="1068.5" stroke="#000" stroke-width="4.5"/>
<polygon points="1415.8,1046.0 1394.3,1076.7 1381.1,1060.3" fill="#000"/>
<line x1="1532.4" y1="1114.5" x2="1490.8" y2="1078.7" stroke="#000" stroke-width="4.5"/>
<polygon points="1457.5,1050.0 1499.0,1069.2 1482.7,1088.2" fill="#000"/>
</g>
<g id="texts" font-family='"Liberation Sans", Arial, sans-serif' fill="#000">
<text x="100" y="250" font-size="82" transform="matrix(1.1091 0 0 1.0441 169.38 -106.02)">f</text>
<text x="100" y="250" font-size="82" transform="matrix(0.9921 0 0 0.9822 170.12 26.46)">e</text>
<text x="100" y="250" font-size="82" transform="matrix(1.0054 0 0 0.9883 169.74 148.63)">d</text>
<text x="100" y="250" font-size="82" transform="matrix(0.9943 0 0 0.9659 172.79 274.06)">c</text>
<text x="100" y="250" font-size="82" transform="matrix(1.0189 0 0 1.0233 166.71 382.44)">b</text>
<text x="100" y="250" font-size="82" transform="matrix(0.9071 0 0 1.0089 178.66 510.07)">a</text>
<text x="100" y="250" font-size="75" transform="matrix(1.0406 0 0 1.0608 113.30 618.20)">PVA</text>
<text x="100" y="250" font-size="75" transform="matrix(1.0010 0 0 1.0731 136.89 740.13)">CS</text>
<text x="100" y="250" font-size="75" transform="matrix(1.0114 0 0 0.9913 130.41 888.70)">Cip</text>
<text x="100" y="250" font-size="75" transform="matrix(1.0019 0 0 1.0087 87.40 1014.20)">CipHcl</text>
<text x="100" y="250" font-size="78" transform="matrix(0.9623 0 0 1.0268 346.19 -88.12)">3329</text>
<text x="100" y="250" font-size="78" transform="matrix(0.9741 0 0 0.9911 552.49 -89.86)">2937</text>
<text x="100" y="250" font-size="78" transform="matrix(0.9430 0 0 0.9732 1454.74 -71.98)">1250</text>
<text x="100" y="250" font-size="78" transform="matrix(0.9430 0 0 0.9679 1124.74 153.77)">1624</text>
<text x="100" y="250" font-size="78" transform="matrix(0.9506 0 0 1.0143 1184.64 893.41)">1652</text>
<text x="100" y="250" font-size="78" transform="matrix(0.9500 0 0 1.0182 1356.00 918.44)">1587</text>
<text x="100" y="250" font-size="74" transform="matrix(1.0163 0 0 1.0288 -25.36 1330.79)">4000</text>
<text x="100" y="250" font-size="74" transform="matrix(1.0164 0 0 1.0288 247.12 1330.79)">3500</text>
<text x="100" y="250" font-size="74" transform="matrix(1.0013 0 0 1.0288 516.47 1330.79)">3000</text>
<text x="100" y="250" font-size="74" transform="matrix(1.0165 0 0 1.0288 780.19 1330.79)">2500</text>
<text x="100" y="250" font-size="74" transform="matrix(1.0171 0 0 1.0288 1048.22 1330.79)">2000</text>
<text x="100" y="250" font-size="74" transform="matrix(0.9962 0 0 1.0288 1321.41 1330.79)">1500</text>
<text x="100" y="250" font-size="74" transform="matrix(1.0051 0 0 1.0288 1586.76 1330.79)">1000</text>
<text x="100" y="250" font-size="74" transform="matrix(0.9983 0 0 1.0288 1877.78 1330.79)">500</text>
<text x="100" y="250" font-size="91" transform="matrix(1.0127 0 0 1.0012 623.72 1421.98)">Wavenumber (cm</text>
<text x="100" y="250" font-size="61" transform="matrix(0.8792 0 0 1.0357 1358.95 1386.87)">-1</text>
<text x="100" y="250" font-size="91" transform="matrix(0.8667 0 0 1.0012 1421.67 1421.98)">)</text>
<text x="100" y="250" font-size="94" transform="matrix(0 -0.9827 0.9753 0 -129.43 1231.93)">Transmittance (%)</text>
</g>
</svg>
</body></html>
